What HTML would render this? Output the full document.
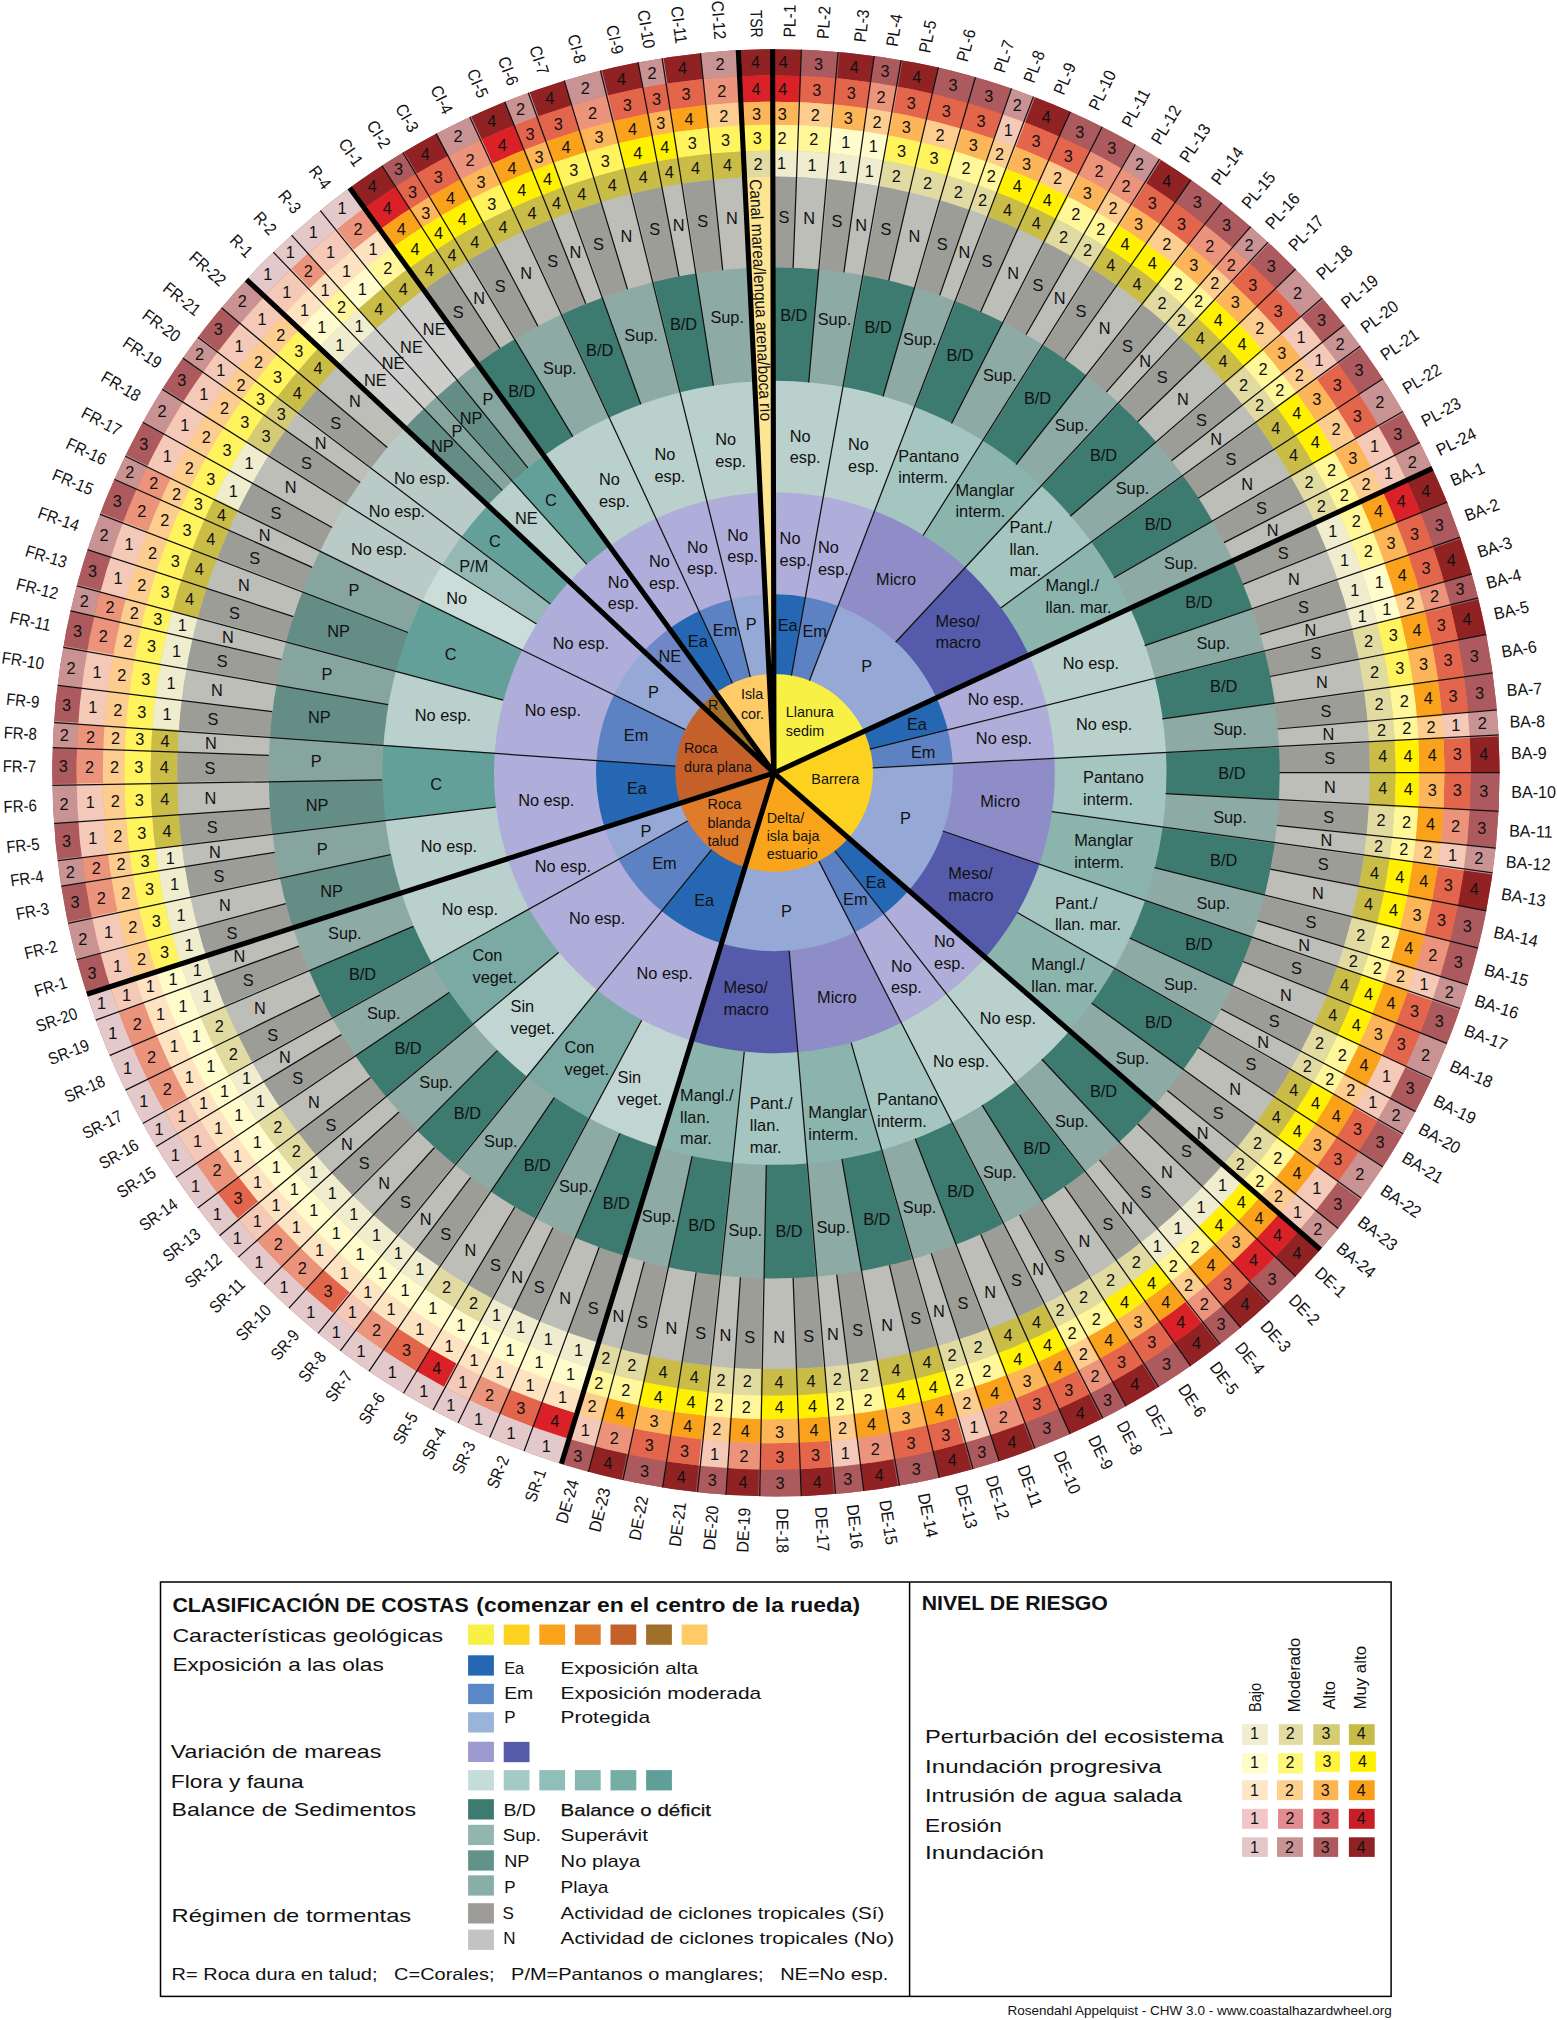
<!DOCTYPE html>
<html><head><meta charset="utf-8"><title>Coastal Hazard Wheel</title>
<style>html,body{margin:0;padding:0;background:#fff}svg{display:block}text{font-family:"Liberation Sans",sans-serif}</style>
</head><body>
<svg width="1557" height="2020" viewBox="0 0 1557 2020">
<rect width="1557" height="2020" fill="#fff"/>
<defs><clipPath id="ch5"><circle cx="775.9" cy="772.8" r="723.65"/></clipPath><clipPath id="ch4"><circle cx="773.6" cy="772.5" r="697.1"/></clipPath><clipPath id="ch3"><circle cx="773.7" cy="772.5" r="670.75"/></clipPath><clipPath id="ch2"><circle cx="771.9" cy="772" r="647.2"/></clipPath><clipPath id="ch1"><circle cx="773.1" cy="773" r="622.4"/></clipPath><clipPath id="csto"><circle cx="773.5" cy="772.8" r="596.2"/></clipPath><clipPath id="csed"><circle cx="774.2" cy="772.9" r="505.5"/></clipPath><clipPath id="cflo"><circle cx="774.5" cy="772.8" r="392.0"/></clipPath><clipPath id="ctid"><circle cx="774.4" cy="772.8" r="280.4"/></clipPath><clipPath id="cwave"><circle cx="774.5" cy="772.8" r="178.5"/></clipPath><clipPath id="cgeo"><circle cx="774.2" cy="772.8" r="98.85"/></clipPath></defs>
<g clip-path="url(#ch5)">
<circle cx="774" cy="773" r="729.6" fill="#AC5A5D"/>
<path d="M774 773L772.6 43.4A729.6 729.6 0 0 1 803.2 43.9ZM774 773L838.6 46.2A729.6 729.6 0 0 1 876.4 50.6ZM774 773L902.2 54.7A729.6 729.6 0 0 1 941.1 62.7ZM774 773L1035.4 91.8A729.6 729.6 0 0 1 1073.8 107.8ZM774 773L1162.1 155.1A729.6 729.6 0 0 1 1194.9 177ZM774 773L1436.2 466.6A729.6 729.6 0 0 1 1451.5 502ZM774 773L1464.1 535.9A729.6 729.6 0 0 1 1476 574.2ZM774 773L1482.1 597A729.6 729.6 0 0 1 1490.5 635.2ZM774 773L1502.6 734.7A729.6 729.6 0 0 1 1503.6 774ZM774 773L1496.7 873.4A729.6 729.6 0 0 1 1490 913.2ZM774 773L1323.9 1252.6A729.6 729.6 0 0 1 1298 1280.8ZM774 773L1272.6 1305.8A729.6 729.6 0 0 1 1242.6 1332.3ZM774 773L1223.1 1348.1A729.6 729.6 0 0 1 1192.2 1370.9ZM774 773L1161.3 1391.4A729.6 729.6 0 0 1 1127.3 1411.4ZM774 773L1105.3 1423.1A729.6 729.6 0 0 1 1070.9 1439.5ZM774 773L1036.9 1453.6A729.6 729.6 0 0 1 999.5 1466.9ZM774 773L974.6 1474.5A729.6 729.6 0 0 1 939.1 1483.7ZM774 773L900.5 1491.6A729.6 729.6 0 0 1 863 1497.2ZM774 773L836.1 1500A729.6 729.6 0 0 1 800 1502.2ZM774 773L759.6 1502.5A729.6 729.6 0 0 1 724 1500.9ZM774 773L696.7 1498.5A729.6 729.6 0 0 1 660 1493.7ZM774 773L621.5 1486.5A729.6 729.6 0 0 1 585.3 1477.8ZM774 773L345.6 182.3A729.6 729.6 0 0 1 379.6 159.1ZM774 773L399.5 146.8A729.6 729.6 0 0 1 434.5 127.2ZM774 773L467 111.1A729.6 729.6 0 0 1 503.7 95.2ZM774 773L526.1 86.7A729.6 729.6 0 0 1 564 74.2ZM774 773L599 64.7A729.6 729.6 0 0 1 638.4 56.1ZM774 773L661.1 52.1A729.6 729.6 0 0 1 701.4 47ZM774 773L738 44.2A729.6 729.6 0 0 1 774.1 43.4Z" fill="#902224"/>
<path d="M774 773L801.6 43.9A729.6 729.6 0 0 1 840.1 46.4ZM774 773L874.9 50.4A729.6 729.6 0 0 1 903.7 55ZM774 773L939.6 62.4A729.6 729.6 0 0 1 978.4 72.6ZM774 773L977 72.1A729.6 729.6 0 0 1 1014.7 84.2ZM774 773L1072.4 107.2A729.6 729.6 0 0 1 1105.8 123.2ZM774 773L1104.5 122.5A729.6 729.6 0 0 1 1139 141.2ZM774 773L1193.7 176.1A729.6 729.6 0 0 1 1225.7 200ZM774 773L1224.5 199A729.6 729.6 0 0 1 1254.8 224.2ZM774 773L1271.1 238.8A729.6 729.6 0 0 1 1299.8 267.2ZM774 773L1325.4 295.2A729.6 729.6 0 0 1 1348.7 323.5ZM774 773L1363.8 343.5A729.6 729.6 0 0 1 1387.3 377.7ZM774 773L1406.6 409.4A729.6 729.6 0 0 1 1424.2 441.9ZM774 773L1450.9 500.6A729.6 729.6 0 0 1 1464.6 537.4ZM774 773L1475.6 572.7A729.6 729.6 0 0 1 1482.5 598.5ZM774 773L1490.2 633.7A729.6 729.6 0 0 1 1496.9 673.8ZM774 773L1496.7 672.3A729.6 729.6 0 0 1 1501 711.1ZM774 773L1503.6 772.5A729.6 729.6 0 0 1 1502.6 813ZM774 773L1502.6 811.4A729.6 729.6 0 0 1 1499.6 850.2ZM774 773L1490.3 911.7A729.6 729.6 0 0 1 1481.7 950.5ZM774 773L1482.1 949A729.6 729.6 0 0 1 1471.4 987.5ZM774 773L1464.1 1009.9A729.6 729.6 0 0 1 1450.4 1046.6ZM774 773L1435.8 1080.2A729.6 729.6 0 0 1 1418.5 1115ZM774 773L1406.9 1136.1A729.6 729.6 0 0 1 1385.8 1170.6ZM774 773L1365 1200.9A729.6 729.6 0 0 1 1340.8 1232.5ZM774 773L1299 1279.7A729.6 729.6 0 0 1 1271.4 1306.8ZM774 773L1243.8 1331.3A729.6 729.6 0 0 1 1221.9 1349ZM774 773L1193.4 1370A729.6 729.6 0 0 1 1160 1392.2ZM774 773L1128.6 1410.7A729.6 729.6 0 0 1 1103.9 1423.8ZM774 773L1072.3 1438.9A729.6 729.6 0 0 1 1035.5 1454.2ZM774 773L1000.9 1466.5A729.6 729.6 0 0 1 973.2 1474.9ZM774 773L940.6 1483.4A729.6 729.6 0 0 1 898.9 1491.9ZM774 773L864.6 1497A729.6 729.6 0 0 1 834.5 1500.1ZM774 773L801.5 1502.1A729.6 729.6 0 0 1 758.1 1502.5ZM774 773L725.5 1501A729.6 729.6 0 0 1 695.2 1498.4ZM774 773L661.5 1493.9A729.6 729.6 0 0 1 620.1 1486.2ZM774 773L586.8 1478.2A729.6 729.6 0 0 1 557.9 1469.9ZM774 773L79.4 996.5A729.6 729.6 0 0 1 68.8 960.1ZM774 773L60.4 925.1A729.6 729.6 0 0 1 53.1 885.9ZM774 773L49.8 861.8A729.6 729.6 0 0 1 46 822.5ZM774 773L44.5 785.6A729.6 729.6 0 0 1 44.8 746ZM774 773L46.1 721.8A729.6 729.6 0 0 1 49.9 682.9ZM774 773L55.5 645.9A729.6 729.6 0 0 1 63.3 607.6ZM774 773L69.3 583.7A729.6 729.6 0 0 1 80.6 545.8ZM774 773L92.8 511.5A729.6 729.6 0 0 1 108.1 474.8ZM774 773L118.4 452.8A729.6 729.6 0 0 1 136.9 417.3ZM774 773L155.9 385.3A729.6 729.6 0 0 1 177.6 352.6ZM774 773L192 332.9A729.6 729.6 0 0 1 216.9 301.8ZM774 773L378.3 160A729.6 729.6 0 0 1 400.8 146Z" fill="#AC5A5D"/>
<path d="M774 773L1013.2 83.7A729.6 729.6 0 0 1 1036.8 92.3ZM774 773L1137.7 140.5A729.6 729.6 0 0 1 1163.4 155.9ZM774 773L1253.7 223.2A729.6 729.6 0 0 1 1272.2 239.9ZM774 773L1298.8 266.1A729.6 729.6 0 0 1 1326.4 296.3ZM774 773L1347.8 322.3A729.6 729.6 0 0 1 1364.7 344.7ZM774 773L1386.5 376.5A729.6 729.6 0 0 1 1407.4 410.7ZM774 773L1423.5 440.5A729.6 729.6 0 0 1 1436.8 468ZM774 773L1500.9 709.5A729.6 729.6 0 0 1 1502.7 736.2ZM774 773L1499.7 848.6A729.6 729.6 0 0 1 1496.5 874.9ZM774 773L1471.8 986.1A729.6 729.6 0 0 1 1463.6 1011.4ZM774 773L1451 1045.2A729.6 729.6 0 0 1 1435.2 1081.6ZM774 773L1419.3 1113.6A729.6 729.6 0 0 1 1406.1 1137.4ZM774 773L1386.6 1169.3A729.6 729.6 0 0 1 1364.1 1202.2ZM774 773L1341.8 1231.3A729.6 729.6 0 0 1 1322.9 1253.7ZM774 773L69.1 961.6A729.6 729.6 0 0 1 60.1 923.6ZM774 773L53.4 887.4A729.6 729.6 0 0 1 49.6 860.3ZM774 773L46.1 824A729.6 729.6 0 0 1 44.4 784.1ZM774 773L44.8 747.5A729.6 729.6 0 0 1 46.3 720.3ZM774 773L49.7 684.5A729.6 729.6 0 0 1 55.8 644.4ZM774 773L63 609.1A729.6 729.6 0 0 1 69.7 582.2ZM774 773L80.1 547.3A729.6 729.6 0 0 1 93.4 510.1ZM774 773L107.4 476.2A729.6 729.6 0 0 1 119 451.4ZM774 773L136.2 418.6A729.6 729.6 0 0 1 156.7 384ZM774 773L176.7 353.9A729.6 729.6 0 0 1 193 331.7ZM774 773L215.9 303A729.6 729.6 0 0 1 242.2 273.4ZM774 773L433.1 127.9A729.6 729.6 0 0 1 468.4 110.4ZM774 773L502.3 95.8A729.6 729.6 0 0 1 527.6 86.2ZM774 773L562.5 74.7A729.6 729.6 0 0 1 600.4 64.3ZM774 773L636.9 56.3A729.6 729.6 0 0 1 662.6 51.9ZM774 773L699.9 47.1A729.6 729.6 0 0 1 739.5 44.2Z" fill="#C99293"/>
<path d="M774 773L559.3 1470.4A729.6 729.6 0 0 1 520.3 1457.1ZM774 773L521.7 1457.6A729.6 729.6 0 0 1 485.6 1443.2ZM774 773L487 1443.8A729.6 729.6 0 0 1 453.7 1428.6ZM774 773L455.1 1429.3A729.6 729.6 0 0 1 428.4 1415.6ZM774 773L429.8 1416.3A729.6 729.6 0 0 1 398.5 1398.6ZM774 773L399.8 1399.4A729.6 729.6 0 0 1 363.8 1376.4ZM774 773L365 1377.3A729.6 729.6 0 0 1 334.8 1355.6ZM774 773L336 1356.6A729.6 729.6 0 0 1 312.3 1338ZM774 773L313.5 1339A729.6 729.6 0 0 1 282.8 1312.6ZM774 773L284 1313.6A729.6 729.6 0 0 1 257.7 1288.6ZM774 773L258.8 1289.7A729.6 729.6 0 0 1 231.7 1261.1ZM774 773L232.7 1262.3A729.6 729.6 0 0 1 212.8 1239.3ZM774 773L213.7 1240.4A729.6 729.6 0 0 1 190.7 1211.4ZM774 773L191.7 1212.6A729.6 729.6 0 0 1 168.7 1180.4ZM774 773L169.5 1181.6A729.6 729.6 0 0 1 148.8 1149.2ZM774 773L149.6 1150.5A729.6 729.6 0 0 1 135.3 1125.8ZM774 773L136.1 1127.2A729.6 729.6 0 0 1 117.9 1092.2ZM774 773L118.5 1093.5A729.6 729.6 0 0 1 102 1057.2ZM774 773L102.6 1058.6A729.6 729.6 0 0 1 87.9 1021.4ZM774 773L88.4 1022.8A729.6 729.6 0 0 1 79 995.1ZM774 773L241.2 274.5A729.6 729.6 0 0 1 269.4 245.9ZM774 773L268.3 247A729.6 729.6 0 0 1 287.9 228.8ZM774 773L286.8 229.8A729.6 729.6 0 0 1 317.1 204.1ZM774 773L315.9 205.1A729.6 729.6 0 0 1 346.9 181.4Z" fill="#E3C9CA"/>
</g>
<g clip-path="url(#ch4)">
<circle cx="774" cy="773" r="703.1" fill="#E3654C"/>
<path d="M774 773L772.7 69.9A703.1 703.1 0 0 1 802.1 70.5ZM774 773L1412.1 477.7A703.1 703.1 0 0 1 1426.8 511.9ZM774 773L1303.9 1235.1A703.1 703.1 0 0 1 1278.9 1262.3ZM774 773L1279.9 1261.2A703.1 703.1 0 0 1 1253.3 1287.4ZM774 773L1206.8 1327.1A703.1 703.1 0 0 1 1177 1349.2ZM774 773L567.1 1445A703.1 703.1 0 0 1 529.5 1432.2ZM774 773L442.3 1392.9A703.1 703.1 0 0 1 412.2 1375.9ZM774 773L361.2 203.8A703.1 703.1 0 0 1 394 181.5ZM774 773L478.2 135.2A703.1 703.1 0 0 1 513.6 119.9ZM774 773L739.3 70.8A703.1 703.1 0 0 1 774.1 69.9Z" fill="#DA2128"/>
<path d="M774 773L800.6 70.4A703.1 703.1 0 0 1 837.7 72.8ZM774 773L836.3 72.7A703.1 703.1 0 0 1 872.7 76.9ZM774 773L897.5 80.8A703.1 703.1 0 0 1 935 88.6ZM774 773L933.6 88.3A703.1 703.1 0 0 1 971 98.1ZM774 773L969.6 97.6A703.1 703.1 0 0 1 1005.9 109.3ZM774 773L1025.9 116.6A703.1 703.1 0 0 1 1062.9 132ZM774 773L1061.5 131.4A703.1 703.1 0 0 1 1093.7 146.8ZM774 773L1147.9 177.6A703.1 703.1 0 0 1 1179.6 198.7ZM774 773L1178.4 197.8A703.1 703.1 0 0 1 1209.3 220.8ZM774 773L1253 258.3A703.1 703.1 0 0 1 1280.7 285.6ZM774 773L1279.7 284.5A703.1 703.1 0 0 1 1306.3 313.7ZM774 773L1342.4 359.1A703.1 703.1 0 0 1 1365 392.1ZM774 773L1364.2 390.9A703.1 703.1 0 0 1 1384.3 423.9ZM774 773L1426.3 510.5A703.1 703.1 0 0 1 1439.4 546ZM774 773L1439 544.6A703.1 703.1 0 0 1 1450.5 581.4ZM774 773L1456.3 603.4A703.1 703.1 0 0 1 1464.4 640.2ZM774 773L1464.2 638.7A703.1 703.1 0 0 1 1470.6 677.5ZM774 773L1470.4 676A703.1 703.1 0 0 1 1474.6 713.3ZM774 773L1476.1 736.1A703.1 703.1 0 0 1 1477.1 774ZM774 773L1477.1 772.5A703.1 703.1 0 0 1 1476 811.5ZM774 773L1470.4 869.8A703.1 703.1 0 0 1 1464 908.1ZM774 773L1464.3 906.7A703.1 703.1 0 0 1 1456 944ZM774 773L1439 1001.3A703.1 703.1 0 0 1 1425.8 1036.6ZM774 773L1426.4 1035.2A703.1 703.1 0 0 1 1411.1 1070.4ZM774 773L1383.9 1122.8A703.1 703.1 0 0 1 1363.5 1156.1ZM774 773L1364.3 1154.9A703.1 703.1 0 0 1 1342.6 1186.6ZM774 773L1254.4 1286.4A703.1 703.1 0 0 1 1225.6 1311.9ZM774 773L1178.2 1348.3A703.1 703.1 0 0 1 1146 1369.7ZM774 773L1147.2 1368.9A703.1 703.1 0 0 1 1114.4 1388.2ZM774 773L1093.2 1399.5A703.1 703.1 0 0 1 1060.1 1415.3ZM774 773L1061.4 1414.7A703.1 703.1 0 0 1 1026 1429.4ZM774 773L967.3 1449A703.1 703.1 0 0 1 933.1 1457.9ZM774 773L934.6 1457.5A703.1 703.1 0 0 1 894.4 1465.7ZM774 773L833.8 1473.6A703.1 703.1 0 0 1 799 1475.7ZM774 773L800.5 1475.6A703.1 703.1 0 0 1 758.7 1475.9ZM774 773L699.5 1472.1A703.1 703.1 0 0 1 664.1 1467.5ZM774 773L665.6 1467.7A703.1 703.1 0 0 1 625.7 1460.3ZM774 773L530.9 1432.7A703.1 703.1 0 0 1 496.1 1418.9ZM774 773L413.5 1376.6A703.1 703.1 0 0 1 378.7 1354.5ZM774 773L330.3 1318.4A703.1 703.1 0 0 1 300.7 1293ZM774 773L234.1 1223.4A703.1 703.1 0 0 1 212 1195.4ZM774 773L392.7 182.3A703.1 703.1 0 0 1 414.4 168.8ZM774 773L413.1 169.6A703.1 703.1 0 0 1 446.8 150.7ZM774 773L512.2 120.5A703.1 703.1 0 0 1 536.5 111.2ZM774 773L535.1 111.7A703.1 703.1 0 0 1 571.6 99.7ZM774 773L605.3 90.4A703.1 703.1 0 0 1 643.3 82.1ZM774 773L641.9 82.4A703.1 703.1 0 0 1 666.7 78.1ZM774 773L665.2 78.4A703.1 703.1 0 0 1 704 73.4Z" fill="#E3654C"/>
<path d="M774 773L871.2 76.7A703.1 703.1 0 0 1 899 81.1ZM774 773L1092.4 146.1A703.1 703.1 0 0 1 1125.8 164.2ZM774 773L1124.5 163.5A703.1 703.1 0 0 1 1149.2 178.4ZM774 773L1208.1 219.9A703.1 703.1 0 0 1 1237.3 244.1ZM774 773L1236.2 243.2A703.1 703.1 0 0 1 1254.1 259.3ZM774 773L1450.1 580A703.1 703.1 0 0 1 1456.7 604.8ZM774 773L1476.1 810A703.1 703.1 0 0 1 1473.2 847.3ZM774 773L1456.3 942.6A703.1 703.1 0 0 1 1446 979.7ZM774 773L1226.7 1311A703.1 703.1 0 0 1 1205.6 1328ZM774 773L1115.7 1387.5A703.1 703.1 0 0 1 1091.9 1400.1ZM774 773L1027.3 1428.9A703.1 703.1 0 0 1 991.3 1441.7ZM774 773L895.9 1465.5A703.1 703.1 0 0 1 859.8 1470.8ZM774 773L760.1 1476A703.1 703.1 0 0 1 725.8 1474.4ZM774 773L627.1 1460.6A703.1 703.1 0 0 1 592.1 1452.2ZM774 773L497.5 1419.4A703.1 703.1 0 0 1 465.3 1404.7ZM774 773L379.9 1355.3A703.1 703.1 0 0 1 350.8 1334.4ZM774 773L301.8 1293.9A703.1 703.1 0 0 1 276.5 1269.8ZM774 773L277.5 1270.9A703.1 703.1 0 0 1 251.4 1243.4ZM774 773L212.8 1196.6A703.1 703.1 0 0 1 190.7 1165.6ZM774 773L159.3 1114.3A703.1 703.1 0 0 1 141.7 1080.6ZM774 773L142.4 1081.9A703.1 703.1 0 0 1 126.4 1046.8ZM774 773L127 1048.2A703.1 703.1 0 0 1 112.9 1012.3ZM774 773L86.3 919.5A703.1 703.1 0 0 1 79.4 881.8ZM774 773L79.6 883.2A703.1 703.1 0 0 1 75.9 857.1ZM774 773L71 785.1A703.1 703.1 0 0 1 71.4 747ZM774 773L71.3 748.5A703.1 703.1 0 0 1 72.7 722.2ZM774 773L81.6 650.5A703.1 703.1 0 0 1 89.2 613.6ZM774 773L88.9 615.1A703.1 703.1 0 0 1 95.4 589.1ZM774 773L117.6 521A703.1 703.1 0 0 1 132.3 485.7ZM774 773L131.7 487A703.1 703.1 0 0 1 142.9 463.1ZM774 773L286.7 266.1A703.1 703.1 0 0 1 305.6 248.6ZM774 773L332.6 225.7A703.1 703.1 0 0 1 362.4 203ZM774 773L445.5 151.3A703.1 703.1 0 0 1 479.5 134.5ZM774 773L570.2 100.1A703.1 703.1 0 0 1 606.8 90.1ZM774 773L702.6 73.5A703.1 703.1 0 0 1 740.8 70.7Z" fill="#EC947B"/>
<path d="M774 773L1004.5 108.8A703.1 703.1 0 0 1 1027.2 117.1ZM774 773L1305.4 312.6A703.1 703.1 0 0 1 1327.8 339.8ZM774 773L1326.9 338.7A703.1 703.1 0 0 1 1343.3 360.3ZM774 773L1383.6 422.6A703.1 703.1 0 0 1 1400.5 453.9ZM774 773L1399.9 452.6A703.1 703.1 0 0 1 1412.7 479.1ZM774 773L1474.4 711.8A703.1 703.1 0 0 1 1476.2 737.6ZM774 773L1473.3 845.9A703.1 703.1 0 0 1 1470.2 871.2ZM774 773L1446.4 978.3A703.1 703.1 0 0 1 1438.5 1002.7ZM774 773L1411.7 1069A703.1 703.1 0 0 1 1395.1 1102.5ZM774 773L1395.8 1101.2A703.1 703.1 0 0 1 1383.1 1124.1ZM774 773L1343.5 1185.4A703.1 703.1 0 0 1 1320.2 1215.8ZM774 773L1321.1 1214.6A703.1 703.1 0 0 1 1302.9 1236.2ZM774 773L992.7 1441.2A703.1 703.1 0 0 1 965.9 1449.4ZM774 773L861.3 1470.7A703.1 703.1 0 0 1 832.3 1473.7ZM774 773L727.3 1474.5A703.1 703.1 0 0 1 698.1 1472ZM774 773L593.6 1452.6A703.1 703.1 0 0 1 565.7 1444.5ZM774 773L466.7 1405.4A703.1 703.1 0 0 1 441 1392.2ZM774 773L351.9 1335.3A703.1 703.1 0 0 1 329.1 1317.5ZM774 773L252.4 1244.5A703.1 703.1 0 0 1 233.2 1222.3ZM774 773L191.5 1166.8A703.1 703.1 0 0 1 171.6 1135.5ZM774 773L172.3 1136.8A703.1 703.1 0 0 1 158.6 1113ZM774 773L113.4 1013.7A703.1 703.1 0 0 1 104.3 987ZM774 773L104.7 988.4A703.1 703.1 0 0 1 94.4 953.3ZM774 773L94.8 954.7A703.1 703.1 0 0 1 86 918.1ZM774 773L76.1 858.6A703.1 703.1 0 0 1 72.5 820.7ZM774 773L72.6 822.2A703.1 703.1 0 0 1 71 783.7ZM774 773L72.6 723.7A703.1 703.1 0 0 1 76.3 686.2ZM774 773L76.1 687.7A703.1 703.1 0 0 1 81.9 649.1ZM774 773L95 590.6A703.1 703.1 0 0 1 105.8 554.1ZM774 773L105.4 555.5A703.1 703.1 0 0 1 118.1 519.7ZM774 773L142.2 464.5A703.1 703.1 0 0 1 160.1 430.2ZM774 773L159.4 431.5A703.1 703.1 0 0 1 179.2 398.1ZM774 773L178.4 399.4A703.1 703.1 0 0 1 199.3 367.9ZM774 773L198.5 369.1A703.1 703.1 0 0 1 214.1 347.7ZM774 773L213.2 348.9A703.1 703.1 0 0 1 237.1 319ZM774 773L236.2 320.1A703.1 703.1 0 0 1 261.5 291.6ZM774 773L260.5 292.7A703.1 703.1 0 0 1 287.8 265.1ZM774 773L304.5 249.6A703.1 703.1 0 0 1 333.7 224.8Z" fill="#F5C9B8"/>
</g>
<g clip-path="url(#ch3)">
<circle cx="774" cy="773" r="676.8" fill="#FCB558"/>
<path d="M774 773L772.7 96.3A676.8 676.8 0 0 1 801 96.8ZM774 773L833.9 98.9A676.8 676.8 0 0 1 869 103ZM774 773L892.9 106.8A676.8 676.8 0 0 1 929 114.2ZM774 773L962.2 123A676.8 676.8 0 0 1 997.2 134.1ZM774 773L1016.4 141.2A676.8 676.8 0 0 1 1052.1 156ZM774 773L1080.5 169.6A676.8 676.8 0 0 1 1112.6 187ZM774 773L1133.9 199.9A676.8 676.8 0 0 1 1164.4 220.2ZM774 773L1191.9 240.7A676.8 676.8 0 0 1 1219.9 264ZM774 773L1235 277.6A676.8 676.8 0 0 1 1261.7 303.8ZM774 773L1285.4 329.8A676.8 676.8 0 0 1 1307.1 356.1ZM774 773L1321.1 374.6A676.8 676.8 0 0 1 1342.9 406.4ZM774 773L1360.7 435.8A676.8 676.8 0 0 1 1377 465.9ZM774 773L1401.8 520.4A676.8 676.8 0 0 1 1414.5 554.5ZM774 773L1438.3 643.8A676.8 676.8 0 0 1 1444.5 681ZM774 773L1450.7 772.5A676.8 676.8 0 0 1 1449.7 810.1ZM774 773L1438.4 901.7A676.8 676.8 0 0 1 1430.4 937.6ZM774 773L1401.9 1025.4A676.8 676.8 0 0 1 1387.2 1059.2ZM774 773L1342.2 1140.6A676.8 676.8 0 0 1 1321.3 1171.1ZM774 773L1261 1242.9A676.8 676.8 0 0 1 1235.4 1268.1ZM774 773L1163 1326.8A676.8 676.8 0 0 1 1132 1347.3ZM774 773L1050.7 1390.6A676.8 676.8 0 0 1 1016.5 1404.8ZM774 773L928.5 1431.9A676.8 676.8 0 0 1 889.9 1439.8ZM774 773L799.5 1449.3A676.8 676.8 0 0 1 759.2 1449.6ZM774 773L669.6 1441.7A676.8 676.8 0 0 1 631.2 1434.5ZM774 773L407 204.4A676.8 676.8 0 0 1 427.9 191.5ZM774 773L457.9 174.6A676.8 676.8 0 0 1 490.6 158.5ZM774 773L522 144.9A676.8 676.8 0 0 1 545.4 136ZM774 773L577.8 125.3A676.8 676.8 0 0 1 613 115.7ZM774 773L646.8 108.3A676.8 676.8 0 0 1 670.7 104.2ZM774 773L740.6 97.1A676.8 676.8 0 0 1 774.1 96.3Z" fill="#FCB558"/>
<path d="M774 773L799.6 96.7A676.8 676.8 0 0 1 835.3 99ZM774 773L867.6 102.8A676.8 676.8 0 0 1 894.3 107ZM774 773L927.6 113.9A676.8 676.8 0 0 1 963.6 123.4ZM774 773L995.9 133.7A676.8 676.8 0 0 1 1017.7 141.7ZM774 773L1050.8 155.4A676.8 676.8 0 0 1 1081.8 170.3ZM774 773L1111.4 186.3A676.8 676.8 0 0 1 1135.1 200.7ZM774 773L1163.2 219.4A676.8 676.8 0 0 1 1193 241.5ZM774 773L1218.9 263A676.8 676.8 0 0 1 1236.1 278.5ZM774 773L1260.7 302.8A676.8 676.8 0 0 1 1286.4 330.9ZM774 773L1306.2 355A676.8 676.8 0 0 1 1321.9 375.8ZM774 773L1342.1 405.2A676.8 676.8 0 0 1 1361.4 437ZM774 773L1376.4 464.6A676.8 676.8 0 0 1 1388.8 490.1ZM774 773L1424.8 587.3A676.8 676.8 0 0 1 1431.1 611.1ZM774 773L1448.2 714.1A676.8 676.8 0 0 1 1449.9 738.9ZM774 773L1447.1 843.2A676.8 676.8 0 0 1 1444.1 867.5ZM774 773L1421.2 970.6A676.8 676.8 0 0 1 1413.6 994.1ZM774 773L1372.5 1088.9A676.8 676.8 0 0 1 1360.3 1111ZM774 773L1300.6 1198.1A676.8 676.8 0 0 1 1283.1 1218.9ZM774 773L1209.7 1290.8A676.8 676.8 0 0 1 1189.4 1307.2ZM774 773L1102.9 1364.4A676.8 676.8 0 0 1 1080 1376.6ZM774 773L984.5 1416.2A676.8 676.8 0 0 1 958.7 1424.1ZM774 773L858 1444.5A676.8 676.8 0 0 1 830.2 1447.4ZM774 773L729 1448.3A676.8 676.8 0 0 1 700.9 1445.8ZM774 773L600.3 1427.1A676.8 676.8 0 0 1 573.5 1419.4ZM774 773L129.8 980.3A676.8 676.8 0 0 1 119.9 946.6ZM774 773L120.2 947.9A676.8 676.8 0 0 1 111.8 912.7ZM774 773L112.1 914.1A676.8 676.8 0 0 1 105.4 877.7ZM774 773L105.6 879.1A676.8 676.8 0 0 1 102.1 854ZM774 773L102.3 855.4A676.8 676.8 0 0 1 98.8 818.9ZM774 773L98.9 820.3A676.8 676.8 0 0 1 97.3 783.3ZM774 773L97.4 784.7A676.8 676.8 0 0 1 97.7 748ZM774 773L97.7 749.4A676.8 676.8 0 0 1 99 724.1ZM774 773L98.9 725.6A676.8 676.8 0 0 1 102.4 689.5ZM774 773L102.3 690.9A676.8 676.8 0 0 1 107.8 653.7ZM774 773L107.6 655.1A676.8 676.8 0 0 1 114.9 619.6ZM774 773L114.5 621A676.8 676.8 0 0 1 120.8 596ZM774 773L120.4 597.4A676.8 676.8 0 0 1 130.9 562.3ZM774 773L130.4 563.6A676.8 676.8 0 0 1 142.7 529.2ZM774 773L142.2 530.5A676.8 676.8 0 0 1 156.3 496.4ZM774 773L155.8 497.7A676.8 676.8 0 0 1 166.5 474.7ZM774 773L165.9 476A676.8 676.8 0 0 1 183.1 443ZM774 773L182.4 444.3A676.8 676.8 0 0 1 201.5 412.2ZM774 773L200.7 413.4A676.8 676.8 0 0 1 220.9 383.1ZM774 773L220 384.3A676.8 676.8 0 0 1 235.1 363.6ZM774 773L234.2 364.8A676.8 676.8 0 0 1 257.3 336ZM774 773L256.3 337.1A676.8 676.8 0 0 1 280.8 309.6ZM774 773L705.3 99.8A676.8 676.8 0 0 1 742 97Z" fill="#FDCD8F"/>
<path d="M774 773L1388.2 488.8A676.8 676.8 0 0 1 1402.4 521.7ZM774 773L1414 553.1A676.8 676.8 0 0 1 1425.1 588.6ZM774 773L1430.8 609.7A676.8 676.8 0 0 1 1438.6 645.1ZM774 773L1444.3 679.6A676.8 676.8 0 0 1 1448.3 715.5ZM774 773L1449.8 737.5A676.8 676.8 0 0 1 1450.7 773.9ZM774 773L1449.8 808.7A676.8 676.8 0 0 1 1447 844.6ZM774 773L1444.3 866.1A676.8 676.8 0 0 1 1438.1 903.1ZM774 773L1430.8 936.3A676.8 676.8 0 0 1 1420.8 972ZM774 773L1414.1 992.8A676.8 676.8 0 0 1 1401.4 1026.7ZM774 773L1387.8 1057.9A676.8 676.8 0 0 1 1371.8 1090.2ZM774 773L1361 1109.7A676.8 676.8 0 0 1 1341.4 1141.8ZM774 773L1322.1 1169.9A676.8 676.8 0 0 1 1299.7 1199.2ZM774 773L1284.1 1217.8A676.8 676.8 0 0 1 1260 1244ZM774 773L1236.4 1267.1A676.8 676.8 0 0 1 1208.6 1291.7ZM774 773L1190.6 1306.4A676.8 676.8 0 0 1 1161.9 1327.6ZM774 773L1133.2 1346.5A676.8 676.8 0 0 1 1101.7 1365.1ZM774 773L1081.2 1376A676.8 676.8 0 0 1 1049.4 1391.2ZM774 773L1017.8 1404.3A676.8 676.8 0 0 1 983.1 1416.6ZM774 773L960.1 1423.7A676.8 676.8 0 0 1 927.2 1432.2ZM774 773L891.3 1439.5A676.8 676.8 0 0 1 856.6 1444.7ZM774 773L831.6 1447.3A676.8 676.8 0 0 1 798.1 1449.3ZM774 773L760.7 1449.6A676.8 676.8 0 0 1 727.6 1448.2ZM774 773L702.3 1445.9A676.8 676.8 0 0 1 668.2 1441.4ZM774 773L632.6 1434.8A676.8 676.8 0 0 1 599 1426.7ZM774 773L376.7 225.2A676.8 676.8 0 0 1 408.2 203.6ZM774 773L426.7 192.2A676.8 676.8 0 0 1 459.1 174ZM774 773L489.3 159.1A676.8 676.8 0 0 1 523.3 144.4ZM774 773L544.1 136.5A676.8 676.8 0 0 1 579.2 124.9ZM774 773L611.7 116A676.8 676.8 0 0 1 648.2 108ZM774 773L669.3 104.4A676.8 676.8 0 0 1 706.7 99.6Z" fill="#FAA21B"/>
<path d="M774 773L574.9 1419.8A676.8 676.8 0 0 1 538.7 1407.5ZM774 773L540 1408A676.8 676.8 0 0 1 506.5 1394.7ZM774 773L507.8 1395.2A676.8 676.8 0 0 1 476.9 1381.1ZM774 773L478.2 1381.7A676.8 676.8 0 0 1 453.5 1369ZM774 773L454.7 1369.7A676.8 676.8 0 0 1 425.8 1353.3ZM774 773L427 1354A676.8 676.8 0 0 1 393.5 1332.7ZM774 773L394.7 1333.5A676.8 676.8 0 0 1 366.6 1313.4ZM774 773L367.8 1314.3A676.8 676.8 0 0 1 345.8 1297.1ZM774 773L346.9 1298A676.8 676.8 0 0 1 318.5 1273.5ZM774 773L319.5 1274.4A676.8 676.8 0 0 1 295.1 1251.2ZM774 773L296.1 1252.2A676.8 676.8 0 0 1 271 1225.7ZM774 773L271.9 1226.8A676.8 676.8 0 0 1 253.5 1205.5ZM774 773L254.4 1206.6A676.8 676.8 0 0 1 233 1179.6ZM774 773L233.9 1180.7A676.8 676.8 0 0 1 212.6 1150.8ZM774 773L213.3 1152A676.8 676.8 0 0 1 194.2 1122ZM774 773L194.9 1123.2A676.8 676.8 0 0 1 181.6 1100.3ZM774 773L182.3 1101.5A676.8 676.8 0 0 1 165.4 1069ZM774 773L166.1 1070.3A676.8 676.8 0 0 1 150.7 1036.6ZM774 773L151.2 1037.9A676.8 676.8 0 0 1 137.7 1003.4ZM774 773L138.1 1004.7A676.8 676.8 0 0 1 129.4 979ZM774 773L279.8 310.7A676.8 676.8 0 0 1 306 284.1ZM774 773L305 285.1A676.8 676.8 0 0 1 323.2 268.3ZM774 773L322.1 269.2A676.8 676.8 0 0 1 350.2 245.4ZM774 773L349.1 246.2A676.8 676.8 0 0 1 377.8 224.3Z" fill="#FEE3C3"/>
</g>
<g clip-path="url(#ch2)">
<circle cx="774" cy="773" r="653.2" fill="#FFF35E"/>
<path d="M774 773L772.7 119.8A653.2 653.2 0 0 1 800.1 120.3ZM774 773L798.7 120.3A653.2 653.2 0 0 1 833.2 122.5ZM774 773L955.7 145.6A653.2 653.2 0 0 1 989.5 156.4ZM774 773L988.2 155.9A653.2 653.2 0 0 1 1009.3 163.6ZM774 773L1069.8 190.6A653.2 653.2 0 0 1 1100.8 207.4ZM774 773L1099.6 206.7A653.2 653.2 0 0 1 1122.6 220.6ZM774 773L1177.3 259.2A653.2 653.2 0 0 1 1204.4 281.7ZM774 773L1203.4 280.8A653.2 653.2 0 0 1 1220 295.7ZM774 773L1267.6 345.2A653.2 653.2 0 0 1 1288.5 370.6ZM774 773L1287.7 369.5A653.2 653.2 0 0 1 1302.9 389.6ZM774 773L1340.3 447.5A653.2 653.2 0 0 1 1356.1 476.6ZM774 773L1355.4 475.3A653.2 653.2 0 0 1 1367.4 499.9ZM774 773L1366.8 498.7A653.2 653.2 0 0 1 1380.5 530.4ZM774 773L1380 529.2A653.2 653.2 0 0 1 1392.2 562.1ZM774 773L1421 682.9A653.2 653.2 0 0 1 1424.8 717.5ZM774 773L1424.7 716.2A653.2 653.2 0 0 1 1426.4 740.1ZM774 773L1426.3 807.4A653.2 653.2 0 0 1 1423.5 842.1ZM774 773L1423.7 840.7A653.2 653.2 0 0 1 1420.8 864.2ZM774 773L1407.9 930.6A653.2 653.2 0 0 1 1398.3 965.1ZM774 773L1398.7 963.8A653.2 653.2 0 0 1 1391.4 986.4ZM774 773L1366.5 1048A653.2 653.2 0 0 1 1351 1079.2ZM774 773L1351.6 1077.9A653.2 653.2 0 0 1 1339.9 1099.2ZM774 773L1303.1 1156.1A653.2 653.2 0 0 1 1281.4 1184.3ZM774 773L1282.3 1183.3A653.2 653.2 0 0 1 1265.4 1203.3ZM774 773L1220.3 1249.9A653.2 653.2 0 0 1 1193.5 1273.7ZM774 773L1194.6 1272.8A653.2 653.2 0 0 1 1175 1288.6ZM774 773L1120.7 1326.6A653.2 653.2 0 0 1 1090.3 1344.5ZM774 773L1091.5 1343.9A653.2 653.2 0 0 1 1069.3 1355.6ZM774 773L1009.4 1382.3A653.2 653.2 0 0 1 975.8 1394.2ZM774 773L977.2 1393.8A653.2 653.2 0 0 1 952.3 1401.4ZM774 773L887.2 1416.3A653.2 653.2 0 0 1 853.7 1421.3ZM774 773L855.1 1421.1A653.2 653.2 0 0 1 828.2 1423.9ZM774 773L761.1 1426.1A653.2 653.2 0 0 1 729.2 1424.7ZM774 773L730.6 1424.8A653.2 653.2 0 0 1 703.5 1422.4ZM774 773L637.5 1411.8A653.2 653.2 0 0 1 605 1404ZM774 773L606.4 1404.3A653.2 653.2 0 0 1 580.5 1396.9ZM774 773L321.3 302.1A653.2 653.2 0 0 1 338.9 285.8ZM774 773L363.9 264.6A653.2 653.2 0 0 1 391.6 243.4Z" fill="#FFF799"/>
<path d="M774 773L831.8 122.4A653.2 653.2 0 0 1 865.7 126.3ZM774 773L864.3 126.1A653.2 653.2 0 0 1 890.1 130.2ZM774 773L1391.8 560.8A653.2 653.2 0 0 1 1402.5 595ZM774 773L1402.1 593.7A653.2 653.2 0 0 1 1408.2 616.7ZM774 773L581.8 1397.3A653.2 653.2 0 0 1 546.8 1385.4ZM774 773L548.1 1385.9A653.2 653.2 0 0 1 515.8 1373ZM774 773L517.1 1373.6A653.2 653.2 0 0 1 487.2 1359.9ZM774 773L488.5 1360.5A653.2 653.2 0 0 1 464.6 1348.3ZM774 773L465.8 1348.9A653.2 653.2 0 0 1 437.9 1333.1ZM774 773L439 1333.8A653.2 653.2 0 0 1 406.8 1313.2ZM774 773L407.9 1314A653.2 653.2 0 0 1 380.8 1294.6ZM774 773L381.9 1295.4A653.2 653.2 0 0 1 360.7 1278.8ZM774 773L361.8 1279.7A653.2 653.2 0 0 1 334.3 1256.1ZM774 773L335.3 1257A653.2 653.2 0 0 1 311.8 1234.6ZM774 773L312.8 1235.5A653.2 653.2 0 0 1 288.5 1210ZM774 773L289.4 1211A653.2 653.2 0 0 1 271.6 1190.4ZM774 773L272.4 1191.5A653.2 653.2 0 0 1 251.9 1165.5ZM774 773L252.7 1166.6A653.2 653.2 0 0 1 232.1 1137.7ZM774 773L232.9 1138.8A653.2 653.2 0 0 1 214.3 1109.8ZM774 773L215 1111A653.2 653.2 0 0 1 202.3 1088.9ZM774 773L202.9 1090.1A653.2 653.2 0 0 1 186.6 1058.7ZM774 773L187.2 1060A653.2 653.2 0 0 1 172.4 1027.4ZM774 773L172.9 1028.6A653.2 653.2 0 0 1 159.8 995.3ZM774 773L160.3 996.6A653.2 653.2 0 0 1 151.8 971.8ZM774 773L297 326.8A653.2 653.2 0 0 1 322.3 301.2ZM774 773L337.9 286.7A653.2 653.2 0 0 1 365 263.7Z" fill="#FFFBCC"/>
<path d="M774 773L888.8 130A653.2 653.2 0 0 1 923.6 137.2ZM774 773L922.3 136.9A653.2 653.2 0 0 1 957 146ZM774 773L1407.9 615.4A653.2 653.2 0 0 1 1415.4 649.6ZM774 773L1415.2 648.3A653.2 653.2 0 0 1 1421.1 684.2ZM774 773L152.2 973.1A653.2 653.2 0 0 1 142.6 940.5ZM774 773L143 941.8A653.2 653.2 0 0 1 134.9 907.8ZM774 773L135.1 909.1A653.2 653.2 0 0 1 128.7 874.1ZM774 773L128.9 875.4A653.2 653.2 0 0 1 125.5 851.1ZM774 773L125.7 852.5A653.2 653.2 0 0 1 122.3 817.3ZM774 773L122.4 818.7A653.2 653.2 0 0 1 120.9 782.9ZM774 773L120.9 784.3A653.2 653.2 0 0 1 121.2 748.8ZM774 773L121.2 750.2A653.2 653.2 0 0 1 122.5 725.8ZM774 773L122.4 727.2A653.2 653.2 0 0 1 125.8 692.4ZM774 773L125.6 693.7A653.2 653.2 0 0 1 131 657.9ZM774 773L130.8 659.2A653.2 653.2 0 0 1 137.8 625ZM774 773L137.5 626.3A653.2 653.2 0 0 1 143.5 602.2ZM774 773L143.2 603.5A653.2 653.2 0 0 1 153.3 569.6ZM774 773L152.8 570.9A653.2 653.2 0 0 1 164.7 537.6ZM774 773L164.2 538.9A653.2 653.2 0 0 1 177.8 506.1ZM774 773L177.3 507.3A653.2 653.2 0 0 1 187.7 485.1ZM774 773L187.1 486.3A653.2 653.2 0 0 1 203.7 454.5ZM774 773L203 455.7A653.2 653.2 0 0 1 221.4 424.7ZM774 773L220.7 425.9A653.2 653.2 0 0 1 240.1 396.7ZM774 773L239.3 397.8A653.2 653.2 0 0 1 253.8 377.9ZM774 773L253 379A653.2 653.2 0 0 1 275.2 351.2ZM774 773L274.4 352.3A653.2 653.2 0 0 1 297.9 325.8ZM774 773L468.9 195.5A653.2 653.2 0 0 1 500.4 179.8ZM774 773L552.1 158.6A653.2 653.2 0 0 1 586 147.4ZM774 773L584.7 147.8A653.2 653.2 0 0 1 618.6 138.5ZM774 773L672.9 127.7A653.2 653.2 0 0 1 709 123ZM774 773L707.6 123.2A653.2 653.2 0 0 1 743.1 120.5ZM774 773L741.7 120.6A653.2 653.2 0 0 1 774.1 119.8Z" fill="#FFF35E"/>
<path d="M774 773L1008 163.1A653.2 653.2 0 0 1 1042.4 177.5ZM774 773L1041.1 176.9A653.2 653.2 0 0 1 1071.1 191.3ZM774 773L1121.4 219.8A653.2 653.2 0 0 1 1150.8 239.4ZM774 773L1149.7 238.7A653.2 653.2 0 0 1 1178.4 260ZM774 773L1219 294.8A653.2 653.2 0 0 1 1244.7 320.2ZM774 773L1243.8 319.2A653.2 653.2 0 0 1 1268.5 346.3ZM774 773L1302 388.5A653.2 653.2 0 0 1 1323.1 419.2ZM774 773L1322.3 418A653.2 653.2 0 0 1 1341 448.7ZM774 773L1426.3 738.7A653.2 653.2 0 0 1 1427.2 773.9ZM774 773L1427.2 772.5A653.2 653.2 0 0 1 1426.2 808.8ZM774 773L1421 862.9A653.2 653.2 0 0 1 1415 898.5ZM774 773L1415.3 897.2A653.2 653.2 0 0 1 1407.6 931.9ZM774 773L1391.8 985.1A653.2 653.2 0 0 1 1379.6 1017.9ZM774 773L1380.1 1016.6A653.2 653.2 0 0 1 1365.9 1049.3ZM774 773L1340.6 1098A653.2 653.2 0 0 1 1321.7 1128.9ZM774 773L1322.4 1127.8A653.2 653.2 0 0 1 1302.2 1157.2ZM774 773L1266.3 1202.3A653.2 653.2 0 0 1 1243.1 1227.6ZM774 773L1244 1226.6A653.2 653.2 0 0 1 1219.3 1250.9ZM774 773L1176.1 1287.8A653.2 653.2 0 0 1 1148.4 1308.3ZM774 773L1149.5 1307.5A653.2 653.2 0 0 1 1119.6 1327.3ZM774 773L1070.5 1355A653.2 653.2 0 0 1 1039.8 1369.7ZM774 773L1041 1369.1A653.2 653.2 0 0 1 1008.1 1382.8ZM774 773L953.6 1401A653.2 653.2 0 0 1 921.8 1409.3ZM774 773L923.2 1408.9A653.2 653.2 0 0 1 885.9 1416.6ZM774 773L829.6 1423.8A653.2 653.2 0 0 1 797.3 1425.8ZM774 773L798.6 1425.7A653.2 653.2 0 0 1 759.8 1426ZM774 773L704.8 1422.5A653.2 653.2 0 0 1 671.9 1418.2ZM774 773L673.3 1418.4A653.2 653.2 0 0 1 636.2 1411.5ZM774 773L390.5 244.2A653.2 653.2 0 0 1 420.9 223.4ZM774 773L419.8 224.2A653.2 653.2 0 0 1 439.9 211.7ZM774 773L438.8 212.4A653.2 653.2 0 0 1 470.1 194.8ZM774 773L499.2 180.4A653.2 653.2 0 0 1 532.1 166.3ZM774 773L530.8 166.8A653.2 653.2 0 0 1 553.4 158.2ZM774 773L617.3 138.9A653.2 653.2 0 0 1 652.6 131.2ZM774 773L651.3 131.4A653.2 653.2 0 0 1 674.3 127.5Z" fill="#FFF100"/>
</g>
<g clip-path="url(#ch1)">
<circle cx="774" cy="773" r="628.4" fill="#D5CB74"/>
<path d="M774 773L772.8 144.6A628.4 628.4 0 0 1 799.1 145.1ZM774 773L797.8 145.1A628.4 628.4 0 0 1 831 147.2ZM774 773L829.6 147.1A628.4 628.4 0 0 1 862.2 150.8ZM774 773L860.9 150.6A628.4 628.4 0 0 1 885.7 154.6ZM774 773L1344.3 509.1A628.4 628.4 0 0 1 1357.5 539.6ZM774 773L1357 538.4A628.4 628.4 0 0 1 1368.7 570.1ZM774 773L1368.3 568.8A628.4 628.4 0 0 1 1378.6 601.8ZM774 773L1378.3 600.5A628.4 628.4 0 0 1 1384.2 622.7ZM774 773L1247.6 1186A628.4 628.4 0 0 1 1225.3 1210.3ZM774 773L1226.2 1209.4A628.4 628.4 0 0 1 1202.4 1232.7ZM774 773L1203.4 1231.8A628.4 628.4 0 0 1 1177.6 1254.7ZM774 773L1178.6 1253.8A628.4 628.4 0 0 1 1159.8 1269.1ZM774 773L589.1 1373.6A628.4 628.4 0 0 1 555.5 1362.2ZM774 773L556.7 1362.6A628.4 628.4 0 0 1 525.6 1350.2ZM774 773L526.9 1350.8A628.4 628.4 0 0 1 498.1 1337.6ZM774 773L499.3 1338.2A628.4 628.4 0 0 1 476.4 1326.4ZM774 773L421.8 1293.4A628.4 628.4 0 0 1 395.7 1274.8ZM774 773L396.8 1275.6A628.4 628.4 0 0 1 376.4 1259.6ZM774 773L377.4 1260.5A628.4 628.4 0 0 1 351 1237.7ZM774 773L352 1238.6A628.4 628.4 0 0 1 329.3 1217ZM774 773L330.3 1218A628.4 628.4 0 0 1 306.9 1193.4ZM774 773L307.8 1194.4A628.4 628.4 0 0 1 290.6 1174.6ZM774 773L253.4 1124.9A628.4 628.4 0 0 1 235.6 1097ZM774 773L236.3 1098.2A628.4 628.4 0 0 1 224 1076.9ZM774 773L195.7 1018.9A628.4 628.4 0 0 1 183.1 986.9ZM774 773L183.6 988.1A628.4 628.4 0 0 1 175.4 964.3ZM774 773L175.8 965.5A628.4 628.4 0 0 1 166.6 934.2ZM774 773L167 935.4A628.4 628.4 0 0 1 159.1 902.7ZM774 773L159.4 904A628.4 628.4 0 0 1 153.2 870.2ZM774 773L153.4 871.5A628.4 628.4 0 0 1 150.1 848.2ZM774 773L147.1 728.9A628.4 628.4 0 0 1 150.4 695.4ZM774 773L150.2 696.7A628.4 628.4 0 0 1 155.4 662.3ZM774 773L155.2 663.6A628.4 628.4 0 0 1 162 630.6ZM774 773L161.7 631.9A628.4 628.4 0 0 1 167.5 608.7ZM774 773L209.3 497.2A628.4 628.4 0 0 1 225.3 466.6ZM774 773L224.7 467.8A628.4 628.4 0 0 1 242.4 438ZM774 773L315.1 343.7A628.4 628.4 0 0 1 339.5 319.1ZM774 773L338.5 320A628.4 628.4 0 0 1 355.4 304.3Z" fill="#F0EDCF"/>
<path d="M774 773L884.4 154.4A628.4 628.4 0 0 1 917.9 161.3ZM774 773L916.6 161A628.4 628.4 0 0 1 950.1 169.8ZM774 773L948.8 169.4A628.4 628.4 0 0 1 981.3 179.8ZM774 773L980 179.3A628.4 628.4 0 0 1 1000.3 186.8ZM774 773L1058.6 212.7A628.4 628.4 0 0 1 1088.4 228.9ZM774 773L1087.2 228.2A628.4 628.4 0 0 1 1109.3 241.5ZM774 773L1162 278.7A628.4 628.4 0 0 1 1188.1 300.3ZM774 773L1187.1 299.5A628.4 628.4 0 0 1 1203 313.9ZM774 773L1248.9 361.5A628.4 628.4 0 0 1 1269 385.9ZM774 773L1268.2 384.8A628.4 628.4 0 0 1 1282.8 404.2ZM774 773L1318.8 459.8A628.4 628.4 0 0 1 1334 487.8ZM774 773L1333.4 486.6A628.4 628.4 0 0 1 1344.9 510.3ZM774 773L1383.8 621.4A628.4 628.4 0 0 1 1391.1 654.3ZM774 773L1390.8 653A628.4 628.4 0 0 1 1396.6 687.6ZM774 773L1396.4 686.3A628.4 628.4 0 0 1 1400.1 719.7ZM774 773L1400 718.3A628.4 628.4 0 0 1 1401.6 741.3ZM774 773L1401.5 806.1A628.4 628.4 0 0 1 1398.9 839.4ZM774 773L1399 838.1A628.4 628.4 0 0 1 1396.2 860.8ZM774 773L1383.8 924.6A628.4 628.4 0 0 1 1374.6 957.8ZM774 773L1375 956.5A628.4 628.4 0 0 1 1367.9 978.3ZM774 773L1344 1037.6A628.4 628.4 0 0 1 1329.1 1067.5ZM774 773L1329.7 1066.4A628.4 628.4 0 0 1 1318.4 1086.8ZM774 773L1283 1141.6A628.4 628.4 0 0 1 1262.2 1168.7ZM774 773L1263 1167.7A628.4 628.4 0 0 1 1246.7 1187ZM774 773L1160.8 1268.3A628.4 628.4 0 0 1 1134.2 1287.9ZM774 773L1135.2 1287.2A628.4 628.4 0 0 1 1106.4 1306.3ZM774 773L1107.6 1305.6A628.4 628.4 0 0 1 1078.3 1322.8ZM774 773L1079.4 1322.2A628.4 628.4 0 0 1 1058.1 1333.5ZM774 773L1000.4 1359.2A628.4 628.4 0 0 1 968.2 1370.6ZM774 773L969.4 1370.2A628.4 628.4 0 0 1 945.5 1377.5ZM774 773L882.9 1391.9A628.4 628.4 0 0 1 850.7 1396.7ZM774 773L852 1396.5A628.4 628.4 0 0 1 826.1 1399.2ZM774 773L761.6 1401.3A628.4 628.4 0 0 1 730.9 1399.9ZM774 773L732.2 1400A628.4 628.4 0 0 1 706.1 1397.7ZM774 773L642.7 1387.5A628.4 628.4 0 0 1 611.5 1380ZM774 773L612.7 1380.4A628.4 628.4 0 0 1 587.9 1373.2ZM774 773L477.5 1327.1A628.4 628.4 0 0 1 450.6 1311.8ZM774 773L451.8 1312.5A628.4 628.4 0 0 1 420.7 1292.7ZM774 773L291.5 1175.6A628.4 628.4 0 0 1 271.7 1150.6ZM774 773L272.5 1151.6A628.4 628.4 0 0 1 252.7 1123.9ZM774 773L224.6 1078A628.4 628.4 0 0 1 208.9 1047.9ZM774 773L209.5 1049.1A628.4 628.4 0 0 1 195.2 1017.7ZM774 773L743 145.4A628.4 628.4 0 0 1 774.1 144.6Z" fill="#E1DBA2"/>
<path d="M774 773L999.1 186.3A628.4 628.4 0 0 1 1032.2 200.1ZM774 773L1031 199.6A628.4 628.4 0 0 1 1059.8 213.3ZM774 773L1108.2 240.8A628.4 628.4 0 0 1 1136.5 259.7ZM774 773L1135.4 258.9A628.4 628.4 0 0 1 1163 279.5ZM774 773L1202.1 313A628.4 628.4 0 0 1 1226.9 337.3ZM774 773L1226 336.4A628.4 628.4 0 0 1 1249.8 362.5ZM774 773L1282 403.1A628.4 628.4 0 0 1 1302.2 432.6ZM774 773L1301.5 431.5A628.4 628.4 0 0 1 1319.5 461ZM774 773L1401.5 740A628.4 628.4 0 0 1 1402.4 773.9ZM774 773L1402.4 772.6A628.4 628.4 0 0 1 1401.5 807.4ZM774 773L1396.4 859.5A628.4 628.4 0 0 1 1390.7 893.8ZM774 773L1390.9 892.5A628.4 628.4 0 0 1 1383.5 925.9ZM774 773L1368.3 977.1A628.4 628.4 0 0 1 1356.6 1008.6ZM774 773L1357.1 1007.4A628.4 628.4 0 0 1 1343.4 1038.8ZM774 773L1319.1 1085.7A628.4 628.4 0 0 1 1300.9 1115.4ZM774 773L1301.6 1114.3A628.4 628.4 0 0 1 1282.2 1142.6ZM774 773L1059.3 1332.9A628.4 628.4 0 0 1 1029.7 1347ZM774 773L1030.9 1346.5A628.4 628.4 0 0 1 999.2 1359.7ZM774 773L946.8 1377.2A628.4 628.4 0 0 1 916.2 1385.1ZM774 773L917.5 1384.8A628.4 628.4 0 0 1 881.6 1392.1ZM774 773L827.5 1399.1A628.4 628.4 0 0 1 796.4 1401ZM774 773L797.7 1401A628.4 628.4 0 0 1 760.3 1401.3ZM774 773L707.4 1397.9A628.4 628.4 0 0 1 675.8 1393.7ZM774 773L677.1 1393.9A628.4 628.4 0 0 1 641.4 1387.3ZM774 773L150.3 849.5A628.4 628.4 0 0 1 147 815.6ZM774 773L147.1 816.9A628.4 628.4 0 0 1 145.7 782.5ZM774 773L145.7 783.9A628.4 628.4 0 0 1 146 749.8ZM774 773L146 751.1A628.4 628.4 0 0 1 147.2 727.6ZM774 773L167.1 609.9A628.4 628.4 0 0 1 176.8 577.4ZM774 773L176.4 578.6A628.4 628.4 0 0 1 187.8 546.6ZM774 773L187.3 547.8A628.4 628.4 0 0 1 200.5 516.2ZM774 773L199.9 517.4A628.4 628.4 0 0 1 209.9 496ZM774 773L272.8 393.9A628.4 628.4 0 0 1 294.2 367.2ZM774 773L293.3 368.2A628.4 628.4 0 0 1 316 342.8ZM774 773L354.4 305.2A628.4 628.4 0 0 1 380.5 283.1ZM774 773L379.5 283.9A628.4 628.4 0 0 1 406.1 263.5ZM774 773L405.1 264.3A628.4 628.4 0 0 1 434.3 244.3ZM774 773L433.2 245A628.4 628.4 0 0 1 452.6 233ZM774 773L451.5 233.7A628.4 628.4 0 0 1 481.6 216.8ZM774 773L480.4 217.4A628.4 628.4 0 0 1 510.8 202.4ZM774 773L509.6 202.9A628.4 628.4 0 0 1 541.2 189.3ZM774 773L540 189.8A628.4 628.4 0 0 1 561.8 181.5ZM774 773L560.5 182A628.4 628.4 0 0 1 593.1 171.2ZM774 773L591.8 171.6A628.4 628.4 0 0 1 624.5 162.6ZM774 773L623.3 162.9A628.4 628.4 0 0 1 657.2 155.5ZM774 773L655.9 155.8A628.4 628.4 0 0 1 678.1 152ZM774 773L676.8 152.2A628.4 628.4 0 0 1 711.5 147.7ZM774 773L710.2 147.9A628.4 628.4 0 0 1 744.3 145.3Z" fill="#C9BC47"/>
<path d="M774 773L241.7 439.1A628.4 628.4 0 0 1 260.4 410.9ZM774 773L259.6 412A628.4 628.4 0 0 1 273.6 392.9Z" fill="#D5CB74"/>
</g>
<g clip-path="url(#csto)">
<circle cx="774" cy="773" r="602.2" fill="#BEBEB9"/>
<path d="M774 773L772.8 170.8A602.2 602.2 0 0 1 798.1 171.3ZM774 773L827.3 173.2A602.2 602.2 0 0 1 858.5 176.8ZM774 773L879.8 180.2A602.2 602.2 0 0 1 911.9 186.8ZM774 773L941.5 194.6A602.2 602.2 0 0 1 972.6 204.5ZM774 773L989.7 210.8A602.2 602.2 0 0 1 1021.4 224ZM774 773L1046.7 236.1A602.2 602.2 0 0 1 1075.3 251.6ZM774 773L1094.3 263A602.2 602.2 0 0 1 1121.4 281.1ZM774 773L1145.8 299.3A602.2 602.2 0 0 1 1170.8 320ZM774 773L1184.2 332.1A602.2 602.2 0 0 1 1208 355.5ZM774 773L1229.1 378.6A602.2 602.2 0 0 1 1248.3 402ZM774 773L1260.8 418.5A602.2 602.2 0 0 1 1280.2 446.8ZM774 773L1296.1 472.9A602.2 602.2 0 0 1 1310.6 499.7ZM774 773L1320.5 520.1A602.2 602.2 0 0 1 1333.1 549.4ZM774 773L1343.5 577.3A602.2 602.2 0 0 1 1353.4 608.9ZM774 773L1358.4 627.7A602.2 602.2 0 0 1 1365.4 659.2ZM774 773L1370.4 689.9A602.2 602.2 0 0 1 1374 721.9ZM774 773L1375.4 741.4A602.2 602.2 0 0 1 1376.2 773.8ZM774 773L1375.4 804.7A602.2 602.2 0 0 1 1372.8 836.7ZM774 773L1370.5 855.9A602.2 602.2 0 0 1 1365 888.7ZM774 773L1358.4 918.3A602.2 602.2 0 0 1 1349.6 950.1ZM774 773L1343.6 968.6A602.2 602.2 0 0 1 1332.3 998.8ZM774 773L1320.2 1026.5A602.2 602.2 0 0 1 1306 1055.3ZM774 773L1296.4 1072.6A602.2 602.2 0 0 1 1278.9 1101.2ZM774 773L1261.7 1126.2A602.2 602.2 0 0 1 1241.8 1152.2ZM774 773L1227.9 1168.8A602.2 602.2 0 0 1 1206.5 1192.1ZM774 773L1185.5 1212.7A602.2 602.2 0 0 1 1160.8 1234.6ZM774 773L1144.7 1247.6A602.2 602.2 0 0 1 1119.1 1266.5ZM774 773L1093.7 1283.4A602.2 602.2 0 0 1 1065.6 1299.9ZM774 773L1047.4 1309.6A602.2 602.2 0 0 1 1019 1323.1ZM774 773L991 1334.7A602.2 602.2 0 0 1 960.1 1345.7ZM774 773L939.6 1352A602.2 602.2 0 0 1 910.3 1359.6ZM774 773L878.4 1366.1A602.2 602.2 0 0 1 847.5 1370.7ZM774 773L825.2 1373A602.2 602.2 0 0 1 795.4 1374.8ZM774 773L762.1 1375.1A602.2 602.2 0 0 1 732.7 1373.8ZM774 773L710.2 1371.8A602.2 602.2 0 0 1 679.9 1367.8ZM774 773L648.2 1361.9A602.2 602.2 0 0 1 618.2 1354.7ZM774 773L596.8 1348.5A602.2 602.2 0 0 1 564.6 1337.6ZM774 773L537.2 1326.7A602.2 602.2 0 0 1 509.6 1314.1ZM774 773L489.9 1304A602.2 602.2 0 0 1 464.1 1289.3ZM774 773L436.5 1271.7A602.2 602.2 0 0 1 411.5 1253.9ZM774 773L394 1240.1A602.2 602.2 0 0 1 368.6 1218.3ZM774 773L348.8 1199.4A602.2 602.2 0 0 1 326.4 1175.9ZM774 773L311.6 1158.8A602.2 602.2 0 0 1 292.6 1134.8ZM774 773L275.1 1110.3A602.2 602.2 0 0 1 258 1083.5ZM774 773L247.5 1065.3A602.2 602.2 0 0 1 232.5 1036.4ZM774 773L219.8 1008.7A602.2 602.2 0 0 1 207.8 978ZM774 773L200.8 957.5A602.2 602.2 0 0 1 191.9 927.4ZM774 773L185 898.5A602.2 602.2 0 0 1 179.1 866.2ZM774 773L176.3 846.3A602.2 602.2 0 0 1 173.2 813.9ZM774 773L171.9 783.4A602.2 602.2 0 0 1 172.2 750.7ZM774 773L173.3 730.8A602.2 602.2 0 0 1 176.4 698.7ZM774 773L181 668.1A602.2 602.2 0 0 1 187.5 636.5ZM774 773L192.4 616.7A602.2 602.2 0 0 1 201.7 585.5ZM774 773L211.8 557.2A602.2 602.2 0 0 1 224.4 526.9ZM774 773L232.9 508.7A602.2 602.2 0 0 1 248.2 479.4ZM774 773L263.9 453A602.2 602.2 0 0 1 281.8 426ZM774 773L293.7 409.7A602.2 602.2 0 0 1 314.2 384.1ZM774 773L420.5 285.5A602.2 602.2 0 0 1 448.5 266.4ZM774 773L464.9 256.2A602.2 602.2 0 0 1 493.8 240ZM774 773L520.6 226.7A602.2 602.2 0 0 1 550.9 213.6ZM774 773L569.4 206.6A602.2 602.2 0 0 1 600.6 196.3ZM774 773L629.5 188.4A602.2 602.2 0 0 1 662.1 181.3ZM774 773L680.8 178.1A602.2 602.2 0 0 1 714.1 173.8Z" fill="#9D9D98"/>
<path d="M774 773L796.8 171.2A602.2 602.2 0 0 1 828.6 173.3ZM774 773L857.3 176.6A602.2 602.2 0 0 1 881.1 180.4ZM774 773L910.7 186.5A602.2 602.2 0 0 1 942.7 194.9ZM774 773L971.4 204.1A602.2 602.2 0 0 1 990.9 211.2ZM774 773L1020.3 223.5A602.2 602.2 0 0 1 1047.9 236.7ZM774 773L1074.2 251A602.2 602.2 0 0 1 1095.3 263.7ZM774 773L1120.4 280.4A602.2 602.2 0 0 1 1146.8 300.1ZM774 773L1169.9 319.2A602.2 602.2 0 0 1 1185.2 333ZM774 773L1207.1 354.6A602.2 602.2 0 0 1 1229.9 379.6ZM774 773L1247.6 401A602.2 602.2 0 0 1 1261.6 419.5ZM774 773L1279.5 445.7A602.2 602.2 0 0 1 1296.7 474ZM774 773L1310 498.6A602.2 602.2 0 0 1 1321.1 521.3ZM774 773L1332.7 548.2A602.2 602.2 0 0 1 1343.9 578.5ZM774 773L1353.1 607.7A602.2 602.2 0 0 1 1358.7 628.9ZM774 773L1365.1 658A602.2 602.2 0 0 1 1370.6 691.2ZM774 773L1373.9 720.6A602.2 602.2 0 0 1 1375.4 742.6ZM774 773L1376.2 772.6A602.2 602.2 0 0 1 1375.3 806ZM774 773L1373 835.4A602.2 602.2 0 0 1 1370.3 857.1ZM774 773L1365.2 887.5A602.2 602.2 0 0 1 1358.1 919.5ZM774 773L1349.9 948.9A602.2 602.2 0 0 1 1343.2 969.8ZM774 773L1332.7 997.6A602.2 602.2 0 0 1 1319.7 1027.7ZM774 773L1306.5 1054.1A602.2 602.2 0 0 1 1295.7 1073.7ZM774 773L1279.6 1100.1A602.2 602.2 0 0 1 1261 1127.2ZM774 773L1242.6 1151.2A602.2 602.2 0 0 1 1227 1169.7ZM774 773L1207.3 1191.2A602.2 602.2 0 0 1 1184.5 1213.6ZM774 773L1161.7 1233.8A602.2 602.2 0 0 1 1143.7 1248.4ZM774 773L1120.2 1265.8A602.2 602.2 0 0 1 1092.6 1284ZM774 773L1066.7 1299.3A602.2 602.2 0 0 1 1046.3 1310.1ZM774 773L1020.2 1322.6A602.2 602.2 0 0 1 989.8 1335.2ZM774 773L961.3 1345.3A602.2 602.2 0 0 1 938.4 1352.3ZM774 773L911.5 1359.3A602.2 602.2 0 0 1 877.1 1366.3ZM774 773L848.7 1370.5A602.2 602.2 0 0 1 824 1373.1ZM774 773L796.7 1374.8A602.2 602.2 0 0 1 760.9 1375.1ZM774 773L734 1373.9A602.2 602.2 0 0 1 709 1371.7ZM774 773L681.1 1368A602.2 602.2 0 0 1 646.9 1361.6ZM774 773L619.5 1355A602.2 602.2 0 0 1 595.6 1348.2ZM774 773L565.8 1338.1A602.2 602.2 0 0 1 536 1326.2ZM774 773L510.8 1314.6A602.2 602.2 0 0 1 488.8 1303.4ZM774 773L465.2 1290A602.2 602.2 0 0 1 435.4 1271ZM774 773L412.5 1254.6A602.2 602.2 0 0 1 393 1239.3ZM774 773L369.6 1219.2A602.2 602.2 0 0 1 347.9 1198.5ZM774 773L327.3 1176.8A602.2 602.2 0 0 1 310.8 1157.8ZM774 773L293.4 1135.8A602.2 602.2 0 0 1 274.4 1109.2ZM774 773L258.7 1084.6A602.2 602.2 0 0 1 246.9 1064.2ZM774 773L233 1037.6A602.2 602.2 0 0 1 219.3 1007.5ZM774 773L208.2 979.2A602.2 602.2 0 0 1 200.4 956.3ZM774 773L192.3 928.7A602.2 602.2 0 0 1 184.8 897.3ZM774 773L179.2 867.4A602.2 602.2 0 0 1 176.1 845ZM774 773L173.3 815.1A602.2 602.2 0 0 1 171.9 782.1ZM774 773L172.2 752A602.2 602.2 0 0 1 173.4 729.5ZM774 773L176.3 699.9A602.2 602.2 0 0 1 181.2 666.9ZM774 773L187.2 637.7A602.2 602.2 0 0 1 192.8 615.5ZM774 773L201.3 586.7A602.2 602.2 0 0 1 212.3 556ZM774 773L223.9 528.1A602.2 602.2 0 0 1 233.4 507.6ZM774 773L247.6 480.5A602.2 602.2 0 0 1 264.5 451.9ZM774 773L281.1 427.1A602.2 602.2 0 0 1 294.5 408.7ZM774 773L313.4 385.1A602.2 602.2 0 0 1 335.1 360.7ZM774 773L447.4 267A602.2 602.2 0 0 1 466 255.5ZM774 773L492.7 240.6A602.2 602.2 0 0 1 521.8 226.2ZM774 773L549.8 214.1A602.2 602.2 0 0 1 570.6 206.2ZM774 773L599.4 196.7A602.2 602.2 0 0 1 630.8 188.1ZM774 773L660.8 181.5A602.2 602.2 0 0 1 682.1 177.9ZM774 773L712.8 173.9A602.2 602.2 0 0 1 745.5 171.5Z" fill="#BEBEB9"/>
<path d="M774 773L334.2 361.6A602.2 602.2 0 0 1 357.6 338ZM774 773L356.7 338.9A602.2 602.2 0 0 1 372.8 323.9ZM774 773L371.9 324.7A602.2 602.2 0 0 1 396.9 303.5ZM774 773L395.9 304.3A602.2 602.2 0 0 1 421.5 284.8Z" fill="#CDCDCB"/>
<path d="M774 773L744.3 171.5A602.2 602.2 0 0 1 774.1 170.8Z" fill="#FEE591"/>
</g>
<g clip-path="url(#csed)">
<path d="M774 773L773 261.5A511.5 511.5 0 0 1 820.4 263.6ZM774 773L863.9 269.5A511.5 511.5 0 0 1 917.3 282ZM774 773L957.2 295.4A511.5 511.5 0 0 1 1006.6 317.5ZM774 773L1046 339.8A511.5 511.5 0 0 1 1090.7 371.3ZM774 773L1122.5 398.5A511.5 511.5 0 0 1 1161.3 438.8ZM774 773L1187.5 471.9A511.5 511.5 0 0 1 1218 519ZM774 773L1238.2 558.2A511.5 511.5 0 0 1 1258.1 607.8ZM774 773L1270.4 649.6A511.5 511.5 0 0 1 1280.8 703.5ZM774 773L1284.8 746.1A511.5 511.5 0 0 1 1284.7 801ZM774 773L1280.6 843.4A511.5 511.5 0 0 1 1270.1 897.4ZM774 773L1257.8 939.1A511.5 511.5 0 0 1 1237.5 989.3ZM774 773L1217.7 1027.5A511.5 511.5 0 0 1 1187.7 1073.9ZM774 773L1159.5 1109.2A511.5 511.5 0 0 1 1122.7 1147.2ZM774 773L1088.8 1176.1A511.5 511.5 0 0 1 1044.6 1207.1ZM774 773L1006.2 1228.7A511.5 511.5 0 0 1 957.3 1250.5ZM774 773L914.6 1264.8A511.5 511.5 0 0 1 861.6 1276.9ZM774 773L817.5 1282.6A511.5 511.5 0 0 1 762.8 1284.4ZM774 773L719.8 1281.6A511.5 511.5 0 0 1 666.1 1273ZM774 773L623.5 1261.9A511.5 511.5 0 0 1 571.8 1242.9ZM774 773L532.7 1224A511.5 511.5 0 0 1 486.4 1196ZM774 773L451.2 1169.8A511.5 511.5 0 0 1 412.1 1134.4ZM774 773L381.3 1100.7A511.5 511.5 0 0 1 349.6 1058.6ZM774 773L326.8 1021.3A511.5 511.5 0 0 1 302.9 972.2ZM774 773L473.7 358.9A511.5 511.5 0 0 1 512.4 333.5ZM774 773L558.8 309A511.5 511.5 0 0 1 601.2 291.6ZM774 773L651.3 276.4A511.5 511.5 0 0 1 695.9 267.5Z" fill="#3D7A70"/>
<path d="M774 773L819.3 263.5A511.5 511.5 0 0 1 864.9 269.6ZM774 773L916.3 281.7A511.5 511.5 0 0 1 958.2 295.8ZM774 773L1005.7 317A511.5 511.5 0 0 1 1046.9 340.4ZM774 773L1089.8 370.6A511.5 511.5 0 0 1 1123.2 399.3ZM774 773L1160.6 438A511.5 511.5 0 0 1 1188.1 472.8ZM774 773L1217.5 518.1A511.5 511.5 0 0 1 1238.7 559.2ZM774 773L1257.7 606.8A511.5 511.5 0 0 1 1270.6 650.6ZM774 773L1280.6 702.4A511.5 511.5 0 0 1 1284.8 747.2ZM774 773L1284.8 799.9A511.5 511.5 0 0 1 1280.5 844.5ZM774 773L1270.4 896.4A511.5 511.5 0 0 1 1257.4 940.1ZM774 773L1238 988.4A511.5 511.5 0 0 1 1217.2 1028.4ZM774 773L1188.3 1073A511.5 511.5 0 0 1 1158.8 1110ZM774 773L1123.5 1146.5A511.5 511.5 0 0 1 1088 1176.8ZM774 773L1045.5 1206.5A511.5 511.5 0 0 1 1005.3 1229.2ZM774 773L958.3 1250.1A511.5 511.5 0 0 1 913.6 1265.1ZM774 773L862.6 1276.8A511.5 511.5 0 0 1 816.4 1282.7ZM774 773L763.9 1284.4A511.5 511.5 0 0 1 718.8 1281.5ZM774 773L667.1 1273.2A511.5 511.5 0 0 1 622.5 1261.5ZM774 773L572.8 1243.3A511.5 511.5 0 0 1 531.7 1223.5ZM774 773L487.3 1196.6A511.5 511.5 0 0 1 450.4 1169.1ZM774 773L412.8 1135.2A511.5 511.5 0 0 1 380.6 1099.9ZM774 773L350.2 1059.5A511.5 511.5 0 0 1 326.3 1020.4ZM774 773L303.3 973.2A511.5 511.5 0 0 1 286.8 928.7ZM774 773L511.5 334A511.5 511.5 0 0 1 559.8 308.5ZM774 773L600.2 291.9A511.5 511.5 0 0 1 652.3 276.2ZM774 773L694.9 267.7A511.5 511.5 0 0 1 749.8 262.1Z" fill="#8EAAA4"/>
<path d="M774 773L287.1 929.7A511.5 511.5 0 0 1 273.5 878.6ZM774 773L266.3 835.2A511.5 511.5 0 0 1 262.6 780.8ZM774 773L263.8 737.1A511.5 511.5 0 0 1 270.5 682.9ZM774 773L280 640.3A511.5 511.5 0 0 1 296.9 588.7ZM774 773L400.5 423.6A511.5 511.5 0 0 1 420.3 403.5ZM774 773L432.5 392.2A511.5 511.5 0 0 1 453.7 374.2Z" fill="#648D86"/>
<path d="M774 773L273.7 879.6A511.5 511.5 0 0 1 266.2 834.2ZM774 773L262.6 781.8A511.5 511.5 0 0 1 263.8 736.1ZM774 773L270.3 683.9A511.5 511.5 0 0 1 280.3 639.2ZM774 773L296.5 589.7A511.5 511.5 0 0 1 314.9 547.6ZM774 773L419.5 404.3A511.5 511.5 0 0 1 433.3 391.5ZM774 773L452.9 374.9A511.5 511.5 0 0 1 474.6 358.3Z" fill="#87A59F"/>
<path d="M774 773L314.4 548.5A511.5 511.5 0 0 1 341.3 500.3ZM774 773L340.7 501.2A511.5 511.5 0 0 1 366.7 463.6ZM774 773L366 464.5A511.5 511.5 0 0 1 401.2 422.8Z" fill="#BACBC7"/>
<path d="M774 773L748.7 262.1A511.5 511.5 0 0 1 773 261.5Z" fill="#FEE591"/>
</g>
<g clip-path="url(#cflo)">
<path d="M774 773L773.2 375A398 398 0 0 1 844.8 381.3ZM774 773L843.9 381.2A398 398 0 0 1 917.3 401.7ZM774 773L1135.2 605.9A398 398 0 0 1 1160.4 677.8ZM774 773L1160.2 677A398 398 0 0 1 1171.5 752.9ZM774 773L1074 1034.6A398 398 0 0 1 1018.3 1087.2ZM774 773L1019 1086.7A398 398 0 0 1 953.9 1128ZM774 773L426 966.2A398 398 0 0 1 394.9 894.1ZM774 773L395.1 894.9A398 398 0 0 1 378.9 820.6ZM774 773L377 745.1A398 398 0 0 1 389.9 668.9ZM774 773L483.3 501.1A398 398 0 0 1 508.9 476.2ZM774 773L540.3 450.8A398 398 0 0 1 607.3 411.6ZM774 773L606.6 411.9A398 398 0 0 1 679.3 386.4ZM774 773L678.5 386.6A398 398 0 0 1 755.2 375.4Z" fill="#BAD0CC"/>
<path d="M774 773L916.6 401.4A398 398 0 0 1 986.4 436.4ZM774 773L1045.1 481.6A398 398 0 0 1 1096.2 539.4ZM774 773L1171.5 752.1A398 398 0 0 1 1168.1 828.6ZM774 773L1150.4 902.2A398 398 0 0 1 1118.8 971.8ZM774 773L954.7 1127.6A398 398 0 0 1 882.6 1155.9ZM774 773L807.9 1169.6A398 398 0 0 1 731 1168.7Z" fill="#A5C5C0"/>
<path d="M774 773L985.7 436A398 398 0 0 1 1045.7 482.2ZM774 773L1095.7 538.7A398 398 0 0 1 1135.6 606.6ZM774 773L1168.2 827.8A398 398 0 0 1 1150.2 903ZM774 773L1119.2 971A398 398 0 0 1 1073.4 1035.2ZM774 773L883.4 1155.7A398 398 0 0 1 807 1169.6ZM774 773L731.8 1168.8A398 398 0 0 1 656.1 1153.1Z" fill="#8BB4AD"/>
<path d="M774 773L656.9 1153.4A398 398 0 0 1 585.5 1123.5ZM774 773L522.8 1081.7A398 398 0 0 1 467.9 1027.3Z" fill="#C1D6D3"/>
<path d="M774 773L586.2 1123.9A398 398 0 0 1 522.2 1081.2ZM774 773L468.4 1028A398 398 0 0 1 425.6 965.5Z" fill="#7AAAA3"/>
<path d="M774 773L379 821.4A398 398 0 0 1 377 744.3ZM774 773L389.6 669.7A398 398 0 0 1 416.7 597.6ZM774 773L456.6 532.9A398 398 0 0 1 483.9 500.5ZM774 773L508.3 476.7A398 398 0 0 1 541 450.3Z" fill="#63A09A"/>
<path d="M774 773L416.4 598.3A398 398 0 0 1 437.3 560.8Z" fill="#CBDDD9"/>
<path d="M774 773L436.8 561.5A398 398 0 0 1 457.1 532.3Z" fill="#94B9B4"/>
<path d="M774 773L754.3 375.5A398 398 0 0 1 773.2 375Z" fill="#FEE591"/>
</g>
<g clip-path="url(#ctid)">
<path d="M774 773L773.5 486.6A286.4 286.4 0 0 1 824.9 491.2ZM774 773L824.3 491.1A286.4 286.4 0 0 1 877.1 505.8ZM774 773L1033.9 652.7A286.4 286.4 0 0 1 1052.1 704.5ZM774 773L1051.9 703.9A286.4 286.4 0 0 1 1060 758.6ZM774 773L989.9 961.2A286.4 286.4 0 0 1 949.8 999.1ZM774 773L950.3 998.7A286.4 286.4 0 0 1 903.5 1028.5ZM774 773L689.7 1046.7A286.4 286.4 0 0 1 592.8 994.8ZM774 773L593.3 995.2A286.4 286.4 0 0 1 523.3 911.5ZM774 773L523.6 912A286.4 286.4 0 0 1 501.2 860.2ZM774 773L501.4 860.7A286.4 286.4 0 0 1 488.3 752.3ZM774 773L488.3 752.9A286.4 286.4 0 0 1 516.9 646.8ZM774 773L516.7 647.3A286.4 286.4 0 0 1 565.3 576.9ZM774 773L564.8 577.3A286.4 286.4 0 0 1 606.3 540.8ZM774 773L605.9 541.2A286.4 286.4 0 0 1 654.1 512.9ZM774 773L653.5 513.2A286.4 286.4 0 0 1 705.9 494.8ZM774 773L705.3 495A286.4 286.4 0 0 1 760.5 486.9Z" fill="#AFADD9"/>
<path d="M774 773L876.6 505.6A286.4 286.4 0 0 1 969.5 563.7ZM774 773L1060 758A286.4 286.4 0 0 1 1044.7 866.6ZM774 773L904 1028.2A286.4 286.4 0 0 1 797.8 1058.4Z" fill="#8F8DC7"/>
<path d="M774 773L969.1 563.3A286.4 286.4 0 0 1 1034.2 653.3ZM774 773L1044.9 866A286.4 286.4 0 0 1 989.5 961.7ZM774 773L798.4 1058.4A286.4 286.4 0 0 1 689.2 1046.5Z" fill="#555BAA"/>
<path d="M774 773L759.9 486.9A286.4 286.4 0 0 1 773.5 486.6Z" fill="#FEE591"/>
</g>
<g clip-path="url(#cwave)">
<path d="M774 773L773.6 588.5A184.5 184.5 0 0 1 806.8 591.4ZM774 773L941.4 695.5A184.5 184.5 0 0 1 953.1 728.9ZM774 773L913.1 894.3A184.5 184.5 0 0 1 887.3 918.6ZM774 773L719.7 949.3A184.5 184.5 0 0 1 657.3 915.9ZM774 773L598.4 829.5A184.5 184.5 0 0 1 590 759.7ZM774 773L665.7 623.6A184.5 184.5 0 0 1 696.7 605.5Z" fill="#2567B2"/>
<path d="M774 773L806.4 591.4A184.5 184.5 0 0 1 840.4 600.9ZM774 773L953.1 728.5A184.5 184.5 0 0 1 958.3 763.7ZM774 773L887.6 918.4A184.5 184.5 0 0 1 857.4 937.6ZM774 773L657.6 916.1A184.5 184.5 0 0 1 612.5 862.2ZM774 773L590 760.1A184.5 184.5 0 0 1 608.4 691.7ZM774 773L696.4 605.6A184.5 184.5 0 0 1 730.1 593.8Z" fill="#5D82C4"/>
<path d="M774 773L840.1 600.7A184.5 184.5 0 0 1 941.6 695.9ZM774 773L958.2 763.3A184.5 184.5 0 0 1 912.8 894.6ZM774 773L857.8 937.4A184.5 184.5 0 0 1 719.3 949.2ZM774 773L612.7 862.6A184.5 184.5 0 0 1 598.3 829.2ZM774 773L608.2 692A184.5 184.5 0 0 1 639.5 646.7ZM774 773L729.7 593.9A184.5 184.5 0 0 1 765.3 588.7Z" fill="#96A8D6"/>
<path d="M774 773L639.3 647A184.5 184.5 0 0 1 666 623.4Z" fill="#6F87C6"/>
<path d="M774 773L764.9 588.7A184.5 184.5 0 0 1 773.6 588.5Z" fill="#FEE591"/>
</g>
<g clip-path="url(#cgeo)">
<path d="M774 773L773.8 668.2A104.8 104.8 0 0 1 869.2 729.2Z" fill="#F8F044"/>
<path d="M774 773L869.2 729A104.8 104.8 0 0 1 852.9 842.1Z" fill="#FDD11F"/>
<path d="M774 773L853 841.9A104.8 104.8 0 0 1 742.9 873.1Z" fill="#FAA41B"/>
<path d="M774 773L743.2 873.2A104.8 104.8 0 0 1 674.1 804.9Z" fill="#DF7B29"/>
<path d="M774 773L674.2 805.1A104.8 104.8 0 0 1 697.6 701.2Z" fill="#C6602B"/>
<path d="M774 773L697.4 701.4A104.8 104.8 0 0 1 712.6 688Z" fill="#A0702A"/>
<path d="M774 773L712.4 688.1A104.8 104.8 0 0 1 769 668.3Z" fill="#FFCB66"/>
<path d="M774 773L768.8 668.3A104.8 104.8 0 0 1 773.8 668.2Z" fill="#FEE591"/>
</g>
<g clip-path="url(#ch5)" fill="none">
<path d="M793.1 267.9L801.8 38.5M808.7 382.5L839.1 40.9M843.9 272.4L875.7 45.1M791.4 675.7L903.1 49.4M888.7 280.7L940.8 57.2M883 396.5L978.4 67M939.7 295.4L1015 78.6M809.4 680.7L1037.3 86.8M980.7 311.7L1074.6 102.3M951.5 423.5L1106.9 117.7M1026 334.8L1140.4 135.8M923.1 535.5L1164.9 150.6M1064.7 359.5L1196.7 171.7M1016 464.6L1227.8 194.8M1106.3 392.1L1257.2 219.1M895.6 642.3L1274.7 234.9M1137.6 421.8L1302.6 262.3M1070.2 516.3L1329.5 291.7M1171.5 460.7L1352 319M1000.7 607.9L1368.2 340.4M1198.3 498.3L1391 373.6M1113.9 577.7L1411.2 406.7M1224 542.6L1428.2 438.1M1243 584.3L1455.9 498.6M1144.7 645.6L1469.1 534.2M1260.1 634.3L1480.8 571.3M869.9 749.2L1487.3 595.7M1270.2 676.5L1495.5 632.6M1162.3 718.9L1502 671.6M1277.6 729L1506.2 709.1M872.7 767.8L1508 734.4M1279.5 772.6L1509 772.5M1165.5 793.7L1508 811.7M1276.8 825.4L1505 849.2M1051.7 811.6L1502 874.1M1270.3 869.1L1495.6 912.7M1154.4 867.6L1487.3 950.3M1257.5 920.6L1477 987.6M942.8 831L1469.2 1011.7M1243 961.5L1456 1047.1M1129.6 938L1440.7 1082.5M1221 1009L1424 1116.1M1017.2 912.5L1411.6 1138.7M1198.4 1047.6L1391.1 1172.2M1091.5 1002.9L1369.3 1204.1M1167.3 1090.5L1345.9 1234.7M1137.7 1124L1302.9 1283.4M1041.8 1059.2L1276.2 1309.7M1099.5 1159.8L1247.2 1335.4M834.8 850.9L1226.4 1352.3M1064.6 1186.6L1196.5 1374.4M982.1 1105.2L1164.1 1395.9M1019.7 1214.8L1131.2 1415.3M818.9 861.1L1107.7 1427.9M980.7 1234.3L1074.5 1443.8M915.2 1138.7L1038.8 1458.6M931.2 1253.4L1002.6 1471.5M851.1 1042.6L976.1 1479.7M889.4 1265.1L941.8 1488.6M841.9 1159.1L901.4 1496.9M836.7 1274.6L865.2 1502.3M789.2 950.9L836.5 1505.3M793.1 1278.1L801.7 1507.5M766.3 1164.9L759.5 1507.9M740.4 1277.4L725.2 1506.4M744.3 1051.8L696.2 1503.9M696.1 1272.5L660.7 1499.2M692.1 1156.3L620.4 1491.8M644.3 1261.6L585.4 1483.4M599.2 1247.3L519.8 1462.7M619.8 1133.4L484.9 1448.8M553 1227.6L452.7 1434.1M641.7 1020.2L427.2 1421.1M514.8 1207L397.1 1404M554.3 1097.6L362 1381.7M470.6 1177.3L332.8 1360.8M711.6 849.7L310.2 1343.2M434.5 1147.5L280.4 1317.6M497.2 1050.6L255 1293.4M399 1112L228.7 1265.9M558.7 952.6L209.6 1243.9M370.6 1077.6L187.4 1215.8M449.2 992.5L165.1 1184.6M341.4 1034.6L145 1153.3M687.6 821L131.4 1129.8M319.9 995.1L113.7 1095.9M413.3 926.4L97.6 1060.7M299 946.1L83.4 1024.6M285.7 903.7L64 963M390.6 854.7L55.1 926.2M274.8 852.3L48.1 888.2M495.7 807.1L44.5 862.4M269.7 808.3L40.8 824.4M382.1 779.8L39.1 785.7M268.8 755.4L39.4 747.3M675.4 766.1L40.8 721.5M272.2 711.7L44.4 683.8M388 704.7L50.2 645M281.4 659.5L57.8 607.9M503.2 700.2L64.2 582.3M293.3 616.6L75.1 545.6M408 632.5L87.8 509.6M312.2 567.4L102.5 474M685.2 729.6L113.6 450.5M332.1 527.5L131.5 416M536.5 624L151.4 382.4M360.2 482.6L172.4 350.8M550.4 603.9L187.8 329.6M387.3 447.4L211.8 299.6M502.3 490.4L264.6 243.1M586.8 564.3L283.2 225.8M527.9 467.9L312.5 200.9M499.9 348.3L375.4 155.5M572.8 436.6L396.8 142.2M537.9 326.1L430.6 123.1M732.4 683.3L464.8 106.2M585.8 303.8L500.3 90.8M640.8 404.3L524.3 81.7M627.5 289.2L560.9 69.6M750.3 677L597.7 59.5M679 276.5L635.9 51.1M713.4 385.7L660.3 46.8M722.7 270.1L699.3 41.8" stroke="#111" stroke-width="1.25"/>
<path d="M774 773L772.6 38M774 773L1441.1 464.4M774 773L1328 1256.1M774 773L557.8 1475.5M774 773L74.3 998.2M774 773L237.2 270.9M774 773L342.5 178M774 773L737.7 38.9" stroke="#000" stroke-width="5.1"/>
</g>
<g font-size="17" text-anchor="middle" fill="#111">
<g transform="scale(0.96 1)">
<text x="814.1" y="169.5">1</text>
<text x="846" y="170.6">1</text>
<text x="877.8" y="173.3">1</text>
<text x="905.5" y="176.9">1</text>
<text x="933.7" y="181.9">2</text>
<text x="966.2" y="189.2">2</text>
<text x="998.2" y="198.1">2</text>
<text x="1023.6" y="206.4">2</text>
<text x="1049.4" y="216">4</text>
<text x="1079.4" y="228.9">4</text>
<text x="1107.9" y="242.8">2</text>
<text x="1132.9" y="256.5">2</text>
<text x="1157.2" y="271.3">4</text>
<text x="1184.4" y="289.7">4</text>
<text x="1210.5" y="309.3">2</text>
<text x="1230.7" y="326">2</text>
<text x="1250.4" y="343.8">4</text>
<text x="1274.1" y="367.4">4</text>
<text x="1295.4" y="390.9">2</text>
<text x="1312" y="411.1">2</text>
<text x="1329" y="433.7">4</text>
<text x="1347.5" y="461.2">4</text>
<text x="1363.6" y="488">2</text>
<text x="1376.4" y="511.9">2</text>
<text x="1388.4" y="536.9">1</text>
<text x="1400.6" y="565.9">1</text>
<text x="1411.3" y="596">1</text>
<text x="1419.1" y="621.6">1</text>
<text x="1425.5" y="647">2</text>
<text x="1431.9" y="678.4">2</text>
<text x="1436.5" y="710.1">2</text>
<text x="1439" y="736.2">2</text>
<text x="1440.3" y="762.5">4</text>
<text x="1440.3" y="794.5">4</text>
<text x="1438.6" y="826.3">2</text>
<text x="1435.9" y="852.2">2</text>
<text x="1431.9" y="878.6">4</text>
<text x="1425.6" y="910.1">4</text>
<text x="1417.5" y="941.2">2</text>
<text x="1409.6" y="966.6">2</text>
<text x="1400.6" y="991.3">4</text>
<text x="1388.3" y="1020.7">4</text>
<text x="1374.5" y="1049.3">2</text>
<text x="1361.8" y="1072.5">2</text>
<text x="1347.7" y="1095.9">4</text>
<text x="1329.5" y="1123">4</text>
<text x="1310" y="1148.8">2</text>
<text x="1292" y="1170.3">2</text>
<text x="1273.5" y="1190.6">1</text>
<text x="1251.2" y="1212.8">1</text>
<text x="1227.1" y="1234.4">1</text>
<text x="1205.6" y="1252">1</text>
<text x="1183.7" y="1268.2">2</text>
<text x="1156.8" y="1286.3">2</text>
<text x="1128.6" y="1303.3">2</text>
<text x="1104.2" y="1316.5">2</text>
<text x="1079.7" y="1328.3">4</text>
<text x="1050" y="1341.1">4</text>
<text x="1018.9" y="1352.6">2</text>
<text x="991.8" y="1361.2">2</text>
<text x="965.6" y="1368.4">4</text>
<text x="933.3" y="1375.6">4</text>
<text x="900.2" y="1381.2">2</text>
<text x="872.2" y="1384.6">2</text>
<text x="844.8" y="1386.8">4</text>
<text x="811.5" y="1388">4</text>
<text x="778.5" y="1387.4">2</text>
<text x="751.1" y="1385.7">2</text>
<text x="723.3" y="1382.8">4</text>
<text x="690.6" y="1377.9">4</text>
<text x="658" y="1371.2">2</text>
<text x="631" y="1364.4">2</text>
<text x="602.7" y="1355.9">1</text>
<text x="571.2" y="1344.8">1</text>
<text x="542.2" y="1332.9">1</text>
<text x="517.3" y="1321.4">1</text>
<text x="493.3" y="1309">2</text>
<text x="465.1" y="1292.7">2</text>
<text x="437.4" y="1274.8">1</text>
<text x="415" y="1258.8">1</text>
<text x="392.3" y="1240.9">1</text>
<text x="368.5" y="1220.3">1</text>
<text x="346.2" y="1198.8">1</text>
<text x="326.6" y="1178.2">1</text>
<text x="308.7" y="1157.5">2</text>
<text x="289.5" y="1133">2</text>
<text x="271.2" y="1107">1</text>
<text x="256.7" y="1084.3">1</text>
<text x="243.1" y="1060.5">2</text>
<text x="228.5" y="1031.8">2</text>
<text x="215.4" y="1002.3">1</text>
<text x="205.5" y="976.4">1</text>
<text x="197" y="950.8">1</text>
<text x="188.7" y="921">1</text>
<text x="181.8" y="890">1</text>
<text x="177.3" y="863.5">1</text>
<text x="174.1" y="837.1">4</text>
<text x="171.7" y="805.3">4</text>
<text x="171.2" y="773.3">4</text>
<text x="172" y="746.7">4</text>
<text x="174.1" y="720.3">1</text>
<text x="178.1" y="688.6">1</text>
<text x="183.9" y="657.2">1</text>
<text x="190" y="631.2">1</text>
<text x="197.4" y="605.3">4</text>
<text x="207.6" y="575.2">4</text>
<text x="219.5" y="545.5">4</text>
<text x="230.7" y="521">4</text>
<text x="243.1" y="496.9">1</text>
<text x="259.4" y="468.7">1</text>
<text x="277.1" y="441.7">3</text>
<text x="292.9" y="419.9">3</text>
<text x="309.8" y="398.6">4</text>
<text x="331.2" y="374.2">4</text>
<text x="354" y="350.8">1</text>
<text x="374" y="332.2">1</text>
<text x="394.6" y="314.6">4</text>
<text x="420.2" y="294.8">4</text>
<text x="447.3" y="275.9">4</text>
<text x="470.8" y="261.2">4</text>
<text x="494.6" y="247.7">4</text>
<text x="524" y="232.8">4</text>
<text x="554.1" y="219.4">4</text>
<text x="579.8" y="209.3">4</text>
<text x="606" y="200.4">4</text>
<text x="637.7" y="191.2">4</text>
<text x="670" y="183.5">4</text>
<text x="697.1" y="178.4">4</text>
<text x="724.5" y="174.4">4</text>
<text x="757.9" y="171.1">4</text>
<text x="789.6" y="169.6">2</text>
<text x="814.6" y="144">2</text>
<text x="847.6" y="145.2">2</text>
<text x="880.9" y="148">1</text>
<text x="909.7" y="151.8">1</text>
<text x="939" y="156.9">3</text>
<text x="972.9" y="164.5">3</text>
<text x="1006.3" y="173.8">2</text>
<text x="1032.7" y="182.4">2</text>
<text x="1059.6" y="192.5">4</text>
<text x="1090.9" y="205.9">4</text>
<text x="1120.5" y="220.4">2</text>
<text x="1146.6" y="234.6">2</text>
<text x="1172" y="250.1">4</text>
<text x="1200.3" y="269.2">4</text>
<text x="1227.5" y="289.7">2</text>
<text x="1248.5" y="307.1">2</text>
<text x="1269" y="325.6">4</text>
<text x="1293.7" y="350.1">4</text>
<text x="1315.8" y="374.6">2</text>
<text x="1333.2" y="395.7">2</text>
<text x="1350.9" y="419.2">4</text>
<text x="1370.2" y="447.9">4</text>
<text x="1387" y="475.8">2</text>
<text x="1400.3" y="500.7">2</text>
<text x="1412.8" y="526.8">2</text>
<text x="1425.4" y="557">2</text>
<text x="1436.7" y="588.4">1</text>
<text x="1444.7" y="615">1</text>
<text x="1451.4" y="641.5">3</text>
<text x="1458.1" y="674.2">3</text>
<text x="1462.9" y="707.3">2</text>
<text x="1465.5" y="734.4">2</text>
<text x="1466.8" y="761.8">4</text>
<text x="1466.9" y="795.2">4</text>
<text x="1465.1" y="828.3">2</text>
<text x="1462.3" y="855.3">2</text>
<text x="1458.1" y="882.7">4</text>
<text x="1451.5" y="915.6">4</text>
<text x="1443.1" y="948">2</text>
<text x="1434.8" y="974.5">2</text>
<text x="1425.5" y="1000.2">4</text>
<text x="1412.7" y="1030.8">4</text>
<text x="1398.3" y="1060.6">2</text>
<text x="1385.1" y="1084.8">2</text>
<text x="1370.4" y="1109.1">4</text>
<text x="1351.4" y="1137.4">4</text>
<text x="1331.1" y="1164.3">2</text>
<text x="1312.4" y="1186.7">2</text>
<text x="1293.1" y="1207.8">4</text>
<text x="1269.8" y="1231">4</text>
<text x="1244.8" y="1253.5">2</text>
<text x="1222.3" y="1271.8">2</text>
<text x="1199.5" y="1288.7">4</text>
<text x="1171.5" y="1307.6">4</text>
<text x="1142.1" y="1325.3">2</text>
<text x="1116.7" y="1339">2</text>
<text x="1091.2" y="1351.3">4</text>
<text x="1060.2" y="1364.6">4</text>
<text x="1027.9" y="1376.6">2</text>
<text x="999.6" y="1385.6">2</text>
<text x="972.3" y="1393">4</text>
<text x="938.7" y="1400.5">4</text>
<text x="904.2" y="1406.4">2</text>
<text x="875" y="1410">2</text>
<text x="846.4" y="1412.3">4</text>
<text x="811.8" y="1413.5">4</text>
<text x="777.3" y="1412.9">2</text>
<text x="748.8" y="1411.1">2</text>
<text x="719.8" y="1408.1">4</text>
<text x="685.7" y="1402.9">4</text>
<text x="651.9" y="1396">2</text>
<text x="623.7" y="1388.9">2</text>
<text x="594.2" y="1380.1">1</text>
<text x="561.4" y="1368.5">1</text>
<text x="531.2" y="1356.1">1</text>
<text x="505.3" y="1344.1">1</text>
<text x="480.2" y="1331.2">1</text>
<text x="450.8" y="1314.2">1</text>
<text x="421.9" y="1295.6">1</text>
<text x="398.6" y="1278.8">1</text>
<text x="375" y="1260.2">1</text>
<text x="350.2" y="1238.7">1</text>
<text x="326.9" y="1216.4">1</text>
<text x="306.6" y="1194.9">1</text>
<text x="287.9" y="1173.4">1</text>
<text x="267.9" y="1147.8">1</text>
<text x="248.8" y="1120.8">1</text>
<text x="233.8" y="1097">1</text>
<text x="219.6" y="1072.3">1</text>
<text x="204.4" y="1042.4">1</text>
<text x="190.7" y="1011.7">1</text>
<text x="180.3" y="984.6">1</text>
<text x="171.5" y="958">3</text>
<text x="162.9" y="926.9">3</text>
<text x="155.7" y="894.6">3</text>
<text x="151" y="867.1">3</text>
<text x="147.6" y="839.5">3</text>
<text x="145.2" y="806.4">3</text>
<text x="144.6" y="773.1">3</text>
<text x="145.5" y="745.4">3</text>
<text x="147.6" y="717.9">3</text>
<text x="151.8" y="684.9">3</text>
<text x="157.9" y="652.1">3</text>
<text x="164.3" y="625">3</text>
<text x="171.9" y="598.1">3</text>
<text x="182.6" y="566.7">3</text>
<text x="194.9" y="535.8">3</text>
<text x="206.6" y="510.3">3</text>
<text x="219.5" y="485.1">3</text>
<text x="236.6" y="455.7">3</text>
<text x="254.9" y="427.6">3</text>
<text x="271.4" y="404.8">3</text>
<text x="289.1" y="382.6">3</text>
<text x="311.3" y="357.3">3</text>
<text x="335.1" y="332.9">1</text>
<text x="355.9" y="313.5">2</text>
<text x="377.4" y="295.2">1</text>
<text x="404" y="274.5">2</text>
<text x="432.3" y="254.9">4</text>
<text x="456.8" y="239.5">4</text>
<text x="481.6" y="225.4">4</text>
<text x="512.2" y="209.9">3</text>
<text x="543.5" y="196">4</text>
<text x="570.4" y="185.5">4</text>
<text x="597.6" y="176.2">3</text>
<text x="630.6" y="166.6">3</text>
<text x="664.3" y="158.6">4</text>
<text x="692.5" y="153.3">4</text>
<text x="721.1" y="149.1">3</text>
<text x="755.9" y="145.7">3</text>
<text x="788.9" y="144.1">3</text>
<text x="815" y="119.8">3</text>
<text x="849.2" y="121">2</text>
<text x="883.7" y="124">3</text>
<text x="913.6" y="127.9">2</text>
<text x="944.1" y="133.2">3</text>
<text x="979.3" y="141.1">2</text>
<text x="1013.9" y="150.7">3</text>
<text x="1041.3" y="159.7">2</text>
<text x="1069.2" y="170.2">3</text>
<text x="1101.7" y="184.1">2</text>
<text x="1132.5" y="199.1">3</text>
<text x="1159.5" y="213.9">2</text>
<text x="1185.9" y="229.9">3</text>
<text x="1215.3" y="249.8">2</text>
<text x="1243.5" y="271">3</text>
<text x="1265.3" y="289.1">2</text>
<text x="1286.7" y="308.4">3</text>
<text x="1312.2" y="333.8">2</text>
<text x="1335.3" y="359.3">3</text>
<text x="1353.3" y="381.1">2</text>
<text x="1371.6" y="405.5">3</text>
<text x="1391.7" y="435.3">2</text>
<text x="1409.1" y="464.3">3</text>
<text x="1423" y="490.1">2</text>
<text x="1435.9" y="517.2">4</text>
<text x="1449" y="548.6">3</text>
<text x="1460.7" y="581.1">4</text>
<text x="1469" y="608.7">2</text>
<text x="1476" y="636.2">4</text>
<text x="1482.9" y="670.3">3</text>
<text x="1487.9" y="704.5">4</text>
<text x="1490.6" y="732.7">2</text>
<text x="1492" y="761.1">4</text>
<text x="1492" y="795.8">3</text>
<text x="1490.2" y="830.2">4</text>
<text x="1487.3" y="858.2">2</text>
<text x="1483" y="886.7">4</text>
<text x="1476.1" y="920.9">3</text>
<text x="1467.4" y="954.5">4</text>
<text x="1458.8" y="981.9">2</text>
<text x="1449.1" y="1008.7">4</text>
<text x="1435.8" y="1040.4">3</text>
<text x="1420.9" y="1071.3">4</text>
<text x="1407.2" y="1096.5">2</text>
<text x="1391.9" y="1121.7">4</text>
<text x="1372.2" y="1151">3</text>
<text x="1351.1" y="1179">4</text>
<text x="1331.7" y="1202.3">2</text>
<text x="1311.6" y="1224.2">4</text>
<text x="1287.5" y="1248.2">3</text>
<text x="1261.5" y="1271.5">4</text>
<text x="1238.1" y="1290.6">2</text>
<text x="1214.5" y="1308.1">4</text>
<text x="1185.4" y="1327.7">3</text>
<text x="1154.9" y="1346.1">4</text>
<text x="1128.5" y="1360.3">2</text>
<text x="1102.1" y="1373.1">4</text>
<text x="1069.9" y="1386.9">3</text>
<text x="1036.3" y="1399.4">4</text>
<text x="1007" y="1408.7">2</text>
<text x="978.6" y="1416.4">4</text>
<text x="943.7" y="1424.2">3</text>
<text x="907.9" y="1430.3">4</text>
<text x="877.6" y="1434">2</text>
<text x="848" y="1436.4">4</text>
<text x="812" y="1437.6">3</text>
<text x="776.3" y="1437">4</text>
<text x="746.7" y="1435.2">2</text>
<text x="716.5" y="1432.1">4</text>
<text x="681.2" y="1426.7">3</text>
<text x="646" y="1419.5">4</text>
<text x="616.7" y="1412.2">2</text>
<text x="586.1" y="1403">1</text>
<text x="552.1" y="1391">1</text>
<text x="520.7" y="1378.1">1</text>
<text x="493.8" y="1365.7">1</text>
<text x="467.8" y="1352.2">1</text>
<text x="437.3" y="1334.6">1</text>
<text x="407.3" y="1315.2">1</text>
<text x="383.1" y="1297.9">1</text>
<text x="358.6" y="1278.6">1</text>
<text x="332.8" y="1256.3">1</text>
<text x="308.7" y="1233.1">1</text>
<text x="287.6" y="1210.8">1</text>
<text x="268.2" y="1188.4">1</text>
<text x="247.4" y="1161.9">1</text>
<text x="227.6" y="1133.8">1</text>
<text x="212" y="1109.2">1</text>
<text x="197.2" y="1083.5">1</text>
<text x="181.5" y="1052.5">1</text>
<text x="167.3" y="1020.5">1</text>
<text x="156.5" y="992.5">1</text>
<text x="147.4" y="964.9">2</text>
<text x="138.4" y="932.6">2</text>
<text x="131" y="899.1">2</text>
<text x="126.1" y="870.5">2</text>
<text x="122.6" y="841.8">2</text>
<text x="120.1" y="807.4">2</text>
<text x="119.4" y="772.9">2</text>
<text x="120.3" y="744.1">2</text>
<text x="122.6" y="715.6">2</text>
<text x="126.9" y="681.3">2</text>
<text x="133.2" y="647.3">2</text>
<text x="139.8" y="619.2">2</text>
<text x="147.8" y="591.2">2</text>
<text x="158.8" y="558.6">2</text>
<text x="171.7" y="526.5">2</text>
<text x="183.8" y="500">2</text>
<text x="197.2" y="473.9">2</text>
<text x="214.9" y="443.4">2</text>
<text x="234" y="414.2">2</text>
<text x="251.1" y="390.6">2</text>
<text x="269.4" y="367.6">2</text>
<text x="292.5" y="341.2">2</text>
<text x="317.2" y="315.9">1</text>
<text x="338.7" y="295.8">1</text>
<text x="361" y="276.8">1</text>
<text x="388.7" y="255.3">1</text>
<text x="418.1" y="234.9">4</text>
<text x="443.5" y="219">3</text>
<text x="469.2" y="204.4">4</text>
<text x="501" y="188.3">3</text>
<text x="533.5" y="173.8">4</text>
<text x="561.4" y="162.9">3</text>
<text x="589.7" y="153.2">4</text>
<text x="624" y="143.3">3</text>
<text x="659" y="135">4</text>
<text x="688.2" y="129.5">3</text>
<text x="717.8" y="125.1">4</text>
<text x="754" y="121.6">2</text>
<text x="788.2" y="119.9">3</text>
<text x="815.5" y="94.9">4</text>
<text x="850.9" y="96.1">3</text>
<text x="886.7" y="99.2">3</text>
<text x="917.7" y="103.2">2</text>
<text x="949.3" y="108.8">3</text>
<text x="985.8" y="117">3</text>
<text x="1021.8" y="126.9">3</text>
<text x="1050.3" y="136.3">1</text>
<text x="1079.2" y="147.1">3</text>
<text x="1112.9" y="161.6">3</text>
<text x="1144.8" y="177.2">2</text>
<text x="1172.9" y="192.5">2</text>
<text x="1200.3" y="209.2">3</text>
<text x="1230.8" y="229.8">3</text>
<text x="1260.1" y="251.8">2</text>
<text x="1282.7" y="270.6">2</text>
<text x="1304.9" y="290.6">3</text>
<text x="1331.4" y="317">3</text>
<text x="1355.3" y="343.4">1</text>
<text x="1374" y="366.1">1</text>
<text x="1393" y="391.4">3</text>
<text x="1413.9" y="422.3">3</text>
<text x="1431.9" y="452.3">1</text>
<text x="1446.3" y="479.2">1</text>
<text x="1459.8" y="507.3">4</text>
<text x="1473.4" y="539.8">3</text>
<text x="1485.5" y="573.7">3</text>
<text x="1494.2" y="602.3">2</text>
<text x="1501.4" y="630.8">3</text>
<text x="1508.5" y="666.2">3</text>
<text x="1513.7" y="701.7">3</text>
<text x="1516.5" y="731">1</text>
<text x="1518" y="760.5">3</text>
<text x="1518" y="796.5">3</text>
<text x="1516.1" y="832.2">2</text>
<text x="1513.1" y="861.2">1</text>
<text x="1508.6" y="890.8">3</text>
<text x="1501.5" y="926.2">3</text>
<text x="1492.4" y="961.1">2</text>
<text x="1483.5" y="989.6">1</text>
<text x="1473.5" y="1017.4">3</text>
<text x="1459.7" y="1050.3">3</text>
<text x="1444.2" y="1082.4">1</text>
<text x="1429.9" y="1108.5">1</text>
<text x="1414.1" y="1134.7">3</text>
<text x="1393.6" y="1165.1">3</text>
<text x="1371.7" y="1194.2">1</text>
<text x="1351.6" y="1218.3">1</text>
<text x="1330.8" y="1241">4</text>
<text x="1305.7" y="1266">4</text>
<text x="1278.7" y="1290.2">3</text>
<text x="1254.5" y="1309.9">2</text>
<text x="1230" y="1328.2">4</text>
<text x="1199.8" y="1348.5">3</text>
<text x="1168.2" y="1367.6">3</text>
<text x="1140.7" y="1382.3">2</text>
<text x="1113.3" y="1395.7">3</text>
<text x="1079.9" y="1410">3</text>
<text x="1045.1" y="1422.9">2</text>
<text x="1014.6" y="1432.6">1</text>
<text x="985.2" y="1440.6">3</text>
<text x="949" y="1448.7">3</text>
<text x="911.8" y="1455">2</text>
<text x="880.4" y="1458.9">1</text>
<text x="849.6" y="1461.3">3</text>
<text x="812.2" y="1462.6">3</text>
<text x="775.1" y="1462">2</text>
<text x="744.4" y="1460.1">1</text>
<text x="713.2" y="1456.8">3</text>
<text x="676.4" y="1451.2">3</text>
<text x="639.9" y="1443.8">2</text>
<text x="609.6" y="1436.1">1</text>
<text x="577.8" y="1426.6">4</text>
<text x="542.5" y="1414.2">3</text>
<text x="509.9" y="1400.8">2</text>
<text x="482" y="1387.9">1</text>
<text x="455" y="1373.9">4</text>
<text x="423.4" y="1355.7">3</text>
<text x="392.2" y="1335.5">2</text>
<text x="367.1" y="1317.6">1</text>
<text x="341.6" y="1297.5">3</text>
<text x="314.9" y="1274.3">2</text>
<text x="289.9" y="1250.3">2</text>
<text x="268" y="1227.2">1</text>
<text x="247.9" y="1203.9">3</text>
<text x="226.2" y="1176.4">2</text>
<text x="205.7" y="1147.3">1</text>
<text x="189.5" y="1121.7">1</text>
<text x="174.2" y="1095">2</text>
<text x="157.8" y="1062.8">2</text>
<text x="143.1" y="1029.7">2</text>
<text x="131.9" y="1000.6">1</text>
<text x="122.4" y="971.9">1</text>
<text x="113.1" y="938.4">1</text>
<text x="105.4" y="903.6">2</text>
<text x="100.4" y="873.9">2</text>
<text x="96.7" y="844.2">1</text>
<text x="94.1" y="808.5">1</text>
<text x="93.4" y="772.7">2</text>
<text x="94.4" y="742.8">2</text>
<text x="96.7" y="713.2">1</text>
<text x="101.2" y="677.6">1</text>
<text x="107.7" y="642.3">2</text>
<text x="114.6" y="613.1">2</text>
<text x="122.9" y="584.1">1</text>
<text x="134.3" y="550.3">1</text>
<text x="147.6" y="517">2</text>
<text x="160.2" y="489.5">2</text>
<text x="174.2" y="462.4">1</text>
<text x="192.5" y="430.7">1</text>
<text x="212.3" y="400.4">1</text>
<text x="230.1" y="375.9">1</text>
<text x="249.1" y="352">1</text>
<text x="273" y="324.7">1</text>
<text x="298.7" y="298.4">1</text>
<text x="321.1" y="277.5">2</text>
<text x="344.2" y="257.8">1</text>
<text x="372.9" y="235.5">2</text>
<text x="403.4" y="214.3">4</text>
<text x="429.8" y="197.8">3</text>
<text x="456.5" y="182.6">3</text>
<text x="489.5" y="165.9">2</text>
<text x="523.2" y="150.9">4</text>
<text x="552.2" y="139.6">3</text>
<text x="581.5" y="129.6">3</text>
<text x="617.1" y="119.2">2</text>
<text x="653.4" y="110.6">3</text>
<text x="683.8" y="104.9">3</text>
<text x="714.5" y="100.4">3</text>
<text x="752" y="96.7">2</text>
<text x="787.6" y="95">4</text>
<text x="816" y="68.4">4</text>
<text x="852.6" y="69.7">3</text>
<text x="889.8" y="72.9">4</text>
<text x="922" y="77.1">3</text>
<text x="954.9" y="82.9">4</text>
<text x="992.8" y="91.4">3</text>
<text x="1030.1" y="101.7">3</text>
<text x="1059.7" y="111.4">2</text>
<text x="1089.8" y="122.7">4</text>
<text x="1124.8" y="137.7">3</text>
<text x="1158" y="153.9">3</text>
<text x="1187.1" y="169.9">2</text>
<text x="1215.5" y="187.1">4</text>
<text x="1247.2" y="208.5">3</text>
<text x="1277.7" y="231.5">3</text>
<text x="1301.2" y="250.9">2</text>
<text x="1324.2" y="271.7">3</text>
<text x="1351.7" y="299.1">2</text>
<text x="1376.6" y="326.5">3</text>
<text x="1396" y="350.1">2</text>
<text x="1415.7" y="376.4">3</text>
<text x="1437.4" y="408.5">2</text>
<text x="1456.1" y="439.7">3</text>
<text x="1471.1" y="467.6">2</text>
<text x="1485.1" y="496.8">4</text>
<text x="1499.2" y="530.6">3</text>
<text x="1511.8" y="565.7">4</text>
<text x="1520.8" y="595.5">3</text>
<text x="1528.3" y="625.1">4</text>
<text x="1535.7" y="661.8">3</text>
<text x="1541.1" y="698.8">3</text>
<text x="1544" y="729.1">2</text>
<text x="1545.5" y="759.8">4</text>
<text x="1545.6" y="797.2">3</text>
<text x="1543.5" y="834.2">3</text>
<text x="1540.4" y="864.4">2</text>
<text x="1535.8" y="895.1">4</text>
<text x="1528.4" y="932">3</text>
<text x="1519" y="968.2">3</text>
<text x="1509.7" y="997.8">2</text>
<text x="1499.3" y="1026.6">3</text>
<text x="1484.9" y="1060.8">2</text>
<text x="1468.8" y="1094.2">3</text>
<text x="1454.1" y="1121.3">2</text>
<text x="1437.6" y="1148.5">3</text>
<text x="1416.4" y="1180.1">2</text>
<text x="1393.6" y="1210.2">3</text>
<text x="1372.7" y="1235.3">2</text>
<text x="1351.1" y="1258.9">4</text>
<text x="1325" y="1284.8">3</text>
<text x="1297" y="1310">4</text>
<text x="1271.9" y="1330.5">3</text>
<text x="1246.4" y="1349.4">4</text>
<text x="1215.1" y="1370.5">3</text>
<text x="1182.2" y="1390.3">4</text>
<text x="1153.7" y="1405.7">3</text>
<text x="1125.2" y="1419.5">4</text>
<text x="1090.5" y="1434.4">3</text>
<text x="1054.3" y="1447.8">4</text>
<text x="1022.7" y="1457.9">3</text>
<text x="992.1" y="1466.2">4</text>
<text x="954.5" y="1474.6">3</text>
<text x="915.9" y="1481.2">4</text>
<text x="883.2" y="1485.2">3</text>
<text x="851.3" y="1487.7">4</text>
<text x="812.5" y="1489">3</text>
<text x="773.9" y="1488.4">4</text>
<text x="742" y="1486.4">3</text>
<text x="709.6" y="1483">4</text>
<text x="671.4" y="1477.2">3</text>
<text x="633.5" y="1469.5">4</text>
<text x="602" y="1461.6">3</text>
<text x="569" y="1451.7">1</text>
<text x="532.3" y="1438.7">1</text>
<text x="498.5" y="1424.9">1</text>
<text x="469.5" y="1411.4">1</text>
<text x="441.5" y="1397">1</text>
<text x="408.6" y="1378">1</text>
<text x="376.2" y="1357.1">1</text>
<text x="350.2" y="1338.4">1</text>
<text x="323.7" y="1317.6">1</text>
<text x="296" y="1293.5">1</text>
<text x="269.9" y="1268.5">1</text>
<text x="247.2" y="1244.5">1</text>
<text x="226.3" y="1220.4">1</text>
<text x="203.8" y="1191.8">1</text>
<text x="182.5" y="1161.5">1</text>
<text x="165.6" y="1134.9">1</text>
<text x="149.8" y="1107.3">1</text>
<text x="132.8" y="1073.8">1</text>
<text x="117.5" y="1039.4">1</text>
<text x="105.9" y="1009.1">1</text>
<text x="96" y="979.4">3</text>
<text x="86.3" y="944.6">2</text>
<text x="78.3" y="908.4">3</text>
<text x="73.1" y="877.6">2</text>
<text x="69.3" y="846.8">3</text>
<text x="66.6" y="809.7">2</text>
<text x="65.9" y="772.4">3</text>
<text x="66.9" y="741.4">2</text>
<text x="69.3" y="710.7">3</text>
<text x="74" y="673.7">2</text>
<text x="80.7" y="637">3</text>
<text x="87.9" y="606.7">2</text>
<text x="96.4" y="576.6">3</text>
<text x="108.3" y="541.4">2</text>
<text x="122.2" y="506.8">3</text>
<text x="135.3" y="478.3">2</text>
<text x="149.7" y="450.2">3</text>
<text x="168.8" y="417.3">2</text>
<text x="189.4" y="385.8">3</text>
<text x="207.8" y="360.3">2</text>
<text x="227.5" y="335.5">3</text>
<text x="252.4" y="307.1">2</text>
<text x="279" y="279.8">1</text>
<text x="302.3" y="258.1">1</text>
<text x="326.3" y="237.6">1</text>
<text x="356.2" y="214.5">1</text>
<text x="387.8" y="192.5">4</text>
<text x="415.2" y="175.3">3</text>
<text x="443" y="159.6">4</text>
<text x="477.2" y="142.2">2</text>
<text x="512.3" y="126.6">4</text>
<text x="542.3" y="114.9">2</text>
<text x="572.8" y="104.5">4</text>
<text x="609.8" y="93.7">2</text>
<text x="647.5" y="84.8">4</text>
<text x="679.1" y="78.8">2</text>
<text x="711" y="74.2">4</text>
<text x="750" y="70.3">2</text>
<text x="786.9" y="68.5">4</text>
<text x="816.7" y="223.2">S</text>
<text x="842.9" y="224.4">N</text>
<text x="871.9" y="227.1">S</text>
<text x="897.1" y="230.6">N</text>
<text x="922.8" y="235.2">S</text>
<text x="952.4" y="242">N</text>
<text x="981.5" y="250.2">S</text>
<text x="1004.6" y="257.9">N</text>
<text x="1028" y="266.8">S</text>
<text x="1055.3" y="278.6">N</text>
<text x="1081.1" y="291.3">S</text>
<text x="1103.9" y="303.9">N</text>
<text x="1126" y="317.4">S</text>
<text x="1150.7" y="334.1">N</text>
<text x="1174.5" y="352">S</text>
<text x="1192.8" y="367.3">N</text>
<text x="1210.7" y="383.5">S</text>
<text x="1232.3" y="404.9">N</text>
<text x="1251.6" y="426.2">S</text>
<text x="1266.8" y="444.6">N</text>
<text x="1282.3" y="465.1">S</text>
<text x="1299.2" y="490.1">N</text>
<text x="1313.9" y="514.5">S</text>
<text x="1325.7" y="536.2">N</text>
<text x="1336.7" y="559">S</text>
<text x="1347.8" y="585.3">N</text>
<text x="1357.8" y="612.7">S</text>
<text x="1364.9" y="635.9">N</text>
<text x="1370.9" y="659.1">S</text>
<text x="1376.9" y="687.7">N</text>
<text x="1381.3" y="716.6">S</text>
<text x="1383.7" y="740.3">N</text>
<text x="1385.1" y="764.3">S</text>
<text x="1385.3" y="793.5">N</text>
<text x="1384" y="822.6">S</text>
<text x="1381.7" y="846.2">N</text>
<text x="1378.3" y="870.3">S</text>
<text x="1372.7" y="899.3">N</text>
<text x="1365.7" y="927.7">S</text>
<text x="1358.6" y="951">N</text>
<text x="1350.6" y="973.7">S</text>
<text x="1339.6" y="1000.7">N</text>
<text x="1327.2" y="1027">S</text>
<text x="1315.8" y="1048.4">N</text>
<text x="1303.1" y="1069.9">S</text>
<text x="1286.6" y="1094.9">N</text>
<text x="1269" y="1118.8">S</text>
<text x="1252.7" y="1138.7">N</text>
<text x="1235.9" y="1157.5">S</text>
<text x="1215.6" y="1178.1">N</text>
<text x="1193.7" y="1198.2">S</text>
<text x="1174" y="1214.5">N</text>
<text x="1154.1" y="1229.7">S</text>
<text x="1129.5" y="1246.6">N</text>
<text x="1103.7" y="1262.5">S</text>
<text x="1081.3" y="1274.8">N</text>
<text x="1058.8" y="1286">S</text>
<text x="1031.5" y="1298">N</text>
<text x="1003" y="1308.9">S</text>
<text x="978" y="1317">N</text>
<text x="953.8" y="1323.8">S</text>
<text x="924.1" y="1330.7">N</text>
<text x="893.5" y="1336.2">S</text>
<text x="867.7" y="1339.6">N</text>
<text x="842.3" y="1341.8">S</text>
<text x="811.5" y="1343">N</text>
<text x="780.9" y="1342.7">S</text>
<text x="755.6" y="1341.3">N</text>
<text x="729.8" y="1338.8">S</text>
<text x="699.4" y="1334.4">N</text>
<text x="669.3" y="1328.4">S</text>
<text x="644.1" y="1322.2">N</text>
<text x="617.8" y="1314.4">S</text>
<text x="588.6" y="1304.2">N</text>
<text x="561.7" y="1293.3">S</text>
<text x="538.6" y="1282.7">N</text>
<text x="516.2" y="1271.2">S</text>
<text x="490" y="1256.2">N</text>
<text x="464.2" y="1239.6">S</text>
<text x="443.4" y="1224.7">N</text>
<text x="422.3" y="1208.2">S</text>
<text x="400.2" y="1189">N</text>
<text x="379.5" y="1169.1">S</text>
<text x="361.4" y="1150">N</text>
<text x="344.8" y="1130.8">S</text>
<text x="326.9" y="1108">N</text>
<text x="310" y="1083.9">S</text>
<text x="296.7" y="1062.7">N</text>
<text x="284.1" y="1040.6">S</text>
<text x="270.6" y="1014">N</text>
<text x="258.6" y="986.5">S</text>
<text x="249.5" y="962.4">N</text>
<text x="241.7" y="938.7">S</text>
<text x="234.2" y="911">N</text>
<text x="228" y="882.2">S</text>
<text x="223.9" y="857.7">N</text>
<text x="221.1" y="833.2">S</text>
<text x="219.1" y="803.7">N</text>
<text x="218.8" y="774.1">S</text>
<text x="219.8" y="749.5">N</text>
<text x="221.9" y="725.1">S</text>
<text x="225.9" y="695.8">N</text>
<text x="231.5" y="666.8">S</text>
<text x="237.3" y="642.8">N</text>
<text x="244.3" y="619">S</text>
<text x="254" y="591.2">N</text>
<text x="265.2" y="564">S</text>
<text x="275.8" y="541.5">N</text>
<text x="287.5" y="519.3">S</text>
<text x="302.8" y="493.5">N</text>
<text x="319.3" y="468.7">S</text>
<text x="334.1" y="448.8">N</text>
<text x="349.8" y="429.3">S</text>
<text x="369.7" y="407.1">N</text>
<text x="390.9" y="385.8">NE</text>
<text x="409.5" y="368.9">NE</text>
<text x="428.6" y="352.9">NE</text>
<text x="452.3" y="334.9">NE</text>
<text x="477.3" y="317.9">S</text>
<text x="499" y="304.5">N</text>
<text x="521" y="292.4">S</text>
<text x="548" y="279">N</text>
<text x="575.7" y="266.9">S</text>
<text x="599.4" y="258">N</text>
<text x="623.4" y="250">S</text>
<text x="652.5" y="241.8">N</text>
<text x="682.1" y="235">S</text>
<text x="706.9" y="230.6">N</text>
<text x="731.9" y="227.1">S</text>
<text x="762.5" y="224.4">N</text>
<text x="820.5" y="631.4">Ea</text>
<text x="848.6" y="637.4">Em</text>
<text x="902.7" y="672.5">P</text>
<text x="955.1" y="729.8">Ea</text>
<text x="961.6" y="757.8">Em</text>
<text x="943.1" y="824.1">P</text>
<text x="912.3" y="888.4">Ea</text>
<text x="890.9" y="905.1">Em</text>
<text x="819.2" y="916.9">P</text>
<text x="733.5" y="906.4">Ea</text>
<text x="692.1" y="869.1">Em</text>
<text x="672.8" y="837">P</text>
<text x="663.4" y="794.1">Ea</text>
<text x="662.6" y="741.4">Em</text>
<text x="680.8" y="697.7">P</text>
<text x="697.7" y="662.3">NE</text>
<text x="726.9" y="646.9">Ea</text>
<text x="755.2" y="635.8">Em</text>
<text x="782.5" y="630.2">P</text>
<text x="812.1" y="544.4" text-anchor="start">No</text>
<text x="812.1" y="566.2" text-anchor="start">esp.</text>
<text x="852.1" y="553.4" text-anchor="start">No</text>
<text x="852.1" y="575.2" text-anchor="start">esp.</text>
<text x="973" y="947.3" text-anchor="start">No</text>
<text x="973" y="969.1" text-anchor="start">esp.</text>
<text x="928.1" y="971.7" text-anchor="start">No</text>
<text x="928.1" y="993.5" text-anchor="start">esp.</text>
<text x="633.2" y="587.6" text-anchor="start">No</text>
<text x="633.2" y="609.4" text-anchor="start">esp.</text>
<text x="676" y="567.5" text-anchor="start">No</text>
<text x="676" y="589.3" text-anchor="start">esp.</text>
<text x="715.6" y="552.6" text-anchor="start">No</text>
<text x="715.6" y="574.4" text-anchor="start">esp.</text>
<text x="757.6" y="540.6" text-anchor="start">No</text>
<text x="757.6" y="562.4" text-anchor="start">esp.</text>
<text x="933.4" y="585.2">Micro</text>
<text x="1041.9" y="806.9">Micro</text>
<text x="871.9" y="1003.5">Micro</text>
<text x="974.4" y="626.6" text-anchor="start">Meso/</text>
<text x="974.4" y="648.4" text-anchor="start">macro</text>
<text x="987.8" y="879.2" text-anchor="start">Meso/</text>
<text x="987.8" y="901" text-anchor="start">macro</text>
<text x="753.6" y="993.5" text-anchor="start">Meso/</text>
<text x="753.6" y="1015.3" text-anchor="start">macro</text>
<text x="1037.3" y="705.4">No esp.</text>
<text x="1045.8" y="744">No esp.</text>
<text x="692.3" y="979.1">No esp.</text>
<text x="622" y="923.8">No esp.</text>
<text x="586.4" y="871.7">No esp.</text>
<text x="569" y="806.4">No esp.</text>
<text x="575.9" y="716.2">No esp.</text>
<text x="605.1" y="648.7">No esp.</text>
<text x="822.7" y="441.7" text-anchor="start">No</text>
<text x="822.7" y="463.5" text-anchor="start">esp.</text>
<text x="883.4" y="450.1" text-anchor="start">No</text>
<text x="883.4" y="471.9" text-anchor="start">esp.</text>
<text x="623.9" y="485.3" text-anchor="start">No</text>
<text x="623.9" y="507.1" text-anchor="start">esp.</text>
<text x="681.7" y="460.4" text-anchor="start">No</text>
<text x="681.7" y="482.2" text-anchor="start">esp.</text>
<text x="745.1" y="445" text-anchor="start">No</text>
<text x="745.1" y="466.8" text-anchor="start">esp.</text>
<text x="1136.4" y="668.7">No esp.</text>
<text x="1150.2" y="730.4">No esp.</text>
<text x="1049.9" y="1024">No esp.</text>
<text x="1001.1" y="1066.9">No esp.</text>
<text x="489.5" y="914.8">No esp.</text>
<text x="467.6" y="851.9">No esp.</text>
<text x="461.4" y="721.4">No esp.</text>
<text x="935.6" y="461.7" text-anchor="start">Pantano</text>
<text x="935.6" y="483.5" text-anchor="start">interm.</text>
<text x="995.3" y="495.6" text-anchor="start">Manglar</text>
<text x="995.3" y="517.4" text-anchor="start">interm.</text>
<text x="1051.5" y="532.9" text-anchor="start">Pant./</text>
<text x="1051.5" y="554.7" text-anchor="start">llan.</text>
<text x="1051.5" y="576.5" text-anchor="start">mar.</text>
<text x="1089" y="590.7" text-anchor="start">Mangl./</text>
<text x="1089" y="612.5" text-anchor="start">llan. mar.</text>
<text x="1128.2" y="782.8" text-anchor="start">Pantano</text>
<text x="1128.2" y="804.6" text-anchor="start">interm.</text>
<text x="1119" y="845.8" text-anchor="start">Manglar</text>
<text x="1119" y="867.6" text-anchor="start">interm.</text>
<text x="1098.9" y="908.7" text-anchor="start">Pant./</text>
<text x="1098.9" y="930.5" text-anchor="start">llan. mar.</text>
<text x="1074.3" y="969.9" text-anchor="start">Mangl./</text>
<text x="1074.3" y="991.7" text-anchor="start">llan. mar.</text>
<text x="913.6" y="1105.3" text-anchor="start">Pantano</text>
<text x="913.6" y="1127.1" text-anchor="start">interm.</text>
<text x="842" y="1118.1" text-anchor="start">Manglar</text>
<text x="842" y="1139.9" text-anchor="start">interm.</text>
<text x="781.1" y="1109.1" text-anchor="start">Pant./</text>
<text x="781.1" y="1130.9" text-anchor="start">llan.</text>
<text x="781.1" y="1152.7" text-anchor="start">mar.</text>
<text x="708.4" y="1100.9" text-anchor="start">Mangl./</text>
<text x="708.4" y="1122.7" text-anchor="start">llan.</text>
<text x="708.4" y="1144.5" text-anchor="start">mar.</text>
<text x="643.3" y="1082.9" text-anchor="start">Sin</text>
<text x="643.3" y="1104.7" text-anchor="start">veget.</text>
<text x="588" y="1053.4" text-anchor="start">Con</text>
<text x="588" y="1075.2" text-anchor="start">veget.</text>
<text x="531.8" y="1012.3" text-anchor="start">Sin</text>
<text x="531.8" y="1034.1" text-anchor="start">veget.</text>
<text x="492.2" y="961.4" text-anchor="start">Con</text>
<text x="492.2" y="983.2" text-anchor="start">veget.</text>
<text x="454.2" y="790.2">C</text>
<text x="469.4" y="659.7">C</text>
<text x="475.6" y="604">No</text>
<text x="493.5" y="571.6">P/M</text>
<text x="515.4" y="547.2">C</text>
<text x="548.3" y="524.1">NE</text>
<text x="573.8" y="505.6">C</text>
<text x="826.9" y="321.5">B/D</text>
<text x="869.3" y="325.1">Sup.</text>
<text x="914.7" y="333.1">B/D</text>
<text x="958.2" y="344.9">Sup.</text>
<text x="1000" y="360.6">B/D</text>
<text x="1041.4" y="380.6">Sup.</text>
<text x="1080.8" y="404.5">B/D</text>
<text x="1116.3" y="431">Sup.</text>
<text x="1149.5" y="461">B/D</text>
<text x="1179.7" y="494.1">Sup.</text>
<text x="1206.5" y="529.8">B/D</text>
<text x="1230" y="568.6">Sup.</text>
<text x="1248.9" y="608.3">B/D</text>
<text x="1263.8" y="649.3">Sup.</text>
<text x="1274.7" y="692.1">B/D</text>
<text x="1281.2" y="735.4">Sup.</text>
<text x="1283.3" y="779.1">B/D</text>
<text x="1281.2" y="822.7">Sup.</text>
<text x="1274.7" y="866">B/D</text>
<text x="1263.8" y="908.8">Sup.</text>
<text x="1248.8" y="950.1">B/D</text>
<text x="1229.9" y="989.6">Sup.</text>
<text x="1206.9" y="1027.7">B/D</text>
<text x="1179.6" y="1064.2">Sup.</text>
<text x="1149.5" y="1097.2">B/D</text>
<text x="1116.4" y="1127.1">Sup.</text>
<text x="1080.1" y="1154.1">B/D</text>
<text x="1041.4" y="1177.6">Sup.</text>
<text x="1000.8" y="1197.3">B/D</text>
<text x="957.9" y="1213.3">Sup.</text>
<text x="913.3" y="1225.4">B/D</text>
<text x="867.9" y="1233.2">Sup.</text>
<text x="821.9" y="1236.8">B/D</text>
<text x="776.3" y="1236.2">Sup.</text>
<text x="731" y="1231.4">B/D</text>
<text x="686.1" y="1222.3">Sup.</text>
<text x="642" y="1209.1">B/D</text>
<text x="599.7" y="1191.9">Sup.</text>
<text x="559.7" y="1171.2">B/D</text>
<text x="521.7" y="1146.7">Sup.</text>
<text x="486.9" y="1119.3">B/D</text>
<text x="454.3" y="1088.3">Sup.</text>
<text x="425" y="1054.4">B/D</text>
<text x="399.7" y="1018.7">Sup.</text>
<text x="377.6" y="980.1">B/D</text>
<text x="359.2" y="939">Sup.</text>
<text x="345.3" y="897.1">NP</text>
<text x="335.7" y="854.8">P</text>
<text x="330.3" y="811">NP</text>
<text x="329.3" y="767">P</text>
<text x="332.7" y="723.1">NP</text>
<text x="340.5" y="679.7">P</text>
<text x="352.6" y="637.4">NP</text>
<text x="368.8" y="596.3">P</text>
<text x="394.8" y="555.1">No esp.</text>
<text x="413.5" y="516.6">No esp.</text>
<text x="439.6" y="484.5">No esp.</text>
<text x="460.8" y="451.6">NP</text>
<text x="476.1" y="437.5">P</text>
<text x="490.8" y="423.9">NP</text>
<text x="508.2" y="405.4">P</text>
<text x="543.5" y="396.8">B/D</text>
<text x="583.2" y="374.2">Sup.</text>
<text x="624.7" y="355.6">B/D</text>
<text x="667.8" y="340.8">Sup.</text>
<text x="712" y="330.1">B/D</text>
<text x="757.5" y="323.5">Sup.</text>
<text x="818.6" y="717.3" text-anchor="start" font-size="15">Llanura</text>
<text x="818.6" y="735.8" text-anchor="start" font-size="15">sedim</text>
<text x="845.1" y="784.1" text-anchor="start" font-size="15">Barrera</text>
<text x="798.6" y="822.6" text-anchor="start" font-size="15">Delta/</text>
<text x="798.6" y="840.6" text-anchor="start" font-size="15">isla baja</text>
<text x="798.6" y="858.6" text-anchor="start" font-size="15">estuario</text>
<text x="737.1" y="809.1" text-anchor="start" font-size="15">Roca</text>
<text x="737.1" y="827.7" text-anchor="start" font-size="15">blanda</text>
<text x="737.1" y="846.3" text-anchor="start" font-size="15">talud</text>
<text x="712.4" y="753.3" text-anchor="start" font-size="15">Roca</text>
<text x="712.4" y="772.3" text-anchor="start" font-size="15">dura plana</text>
<text x="771.8" y="699.3" text-anchor="start" font-size="15">Isla</text>
<text x="771.8" y="718.6" text-anchor="start" font-size="15">cor.</text>
<text x="742.9" y="710.2" font-size="15">R</text>
</g>
<text transform="translate(749.5 179.5) rotate(87.4)" text-anchor="start" font-size="17" textLength="242" lengthAdjust="spacingAndGlyphs">Canal marea/lengua arena/boca río</text>
<text transform="translate(789.1 37.4) rotate(-89) scale(0.914 1)" y="6.1" text-anchor="start">PL-1</text>
<text transform="translate(822.4 38.8) rotate(-86.4) scale(0.914 1)" y="6.1" text-anchor="start">PL-2</text>
<text transform="translate(859.4 42) rotate(-83.5) scale(0.914 1)" y="6.1" text-anchor="start">PL-3</text>
<text transform="translate(891.4 46.4) rotate(-81) scale(0.914 1)" y="6.1" text-anchor="start">PL-4</text>
<text transform="translate(924 52.4) rotate(-78.4) scale(0.914 1)" y="6.1" text-anchor="start">PL-5</text>
<text transform="translate(961.7 61.2) rotate(-75.4) scale(0.914 1)" y="6.1" text-anchor="start">PL-6</text>
<text transform="translate(998.8 71.9) rotate(-72.4) scale(0.914 1)" y="6.1" text-anchor="start">PL-7</text>
<text transform="translate(1028.2 81.9) rotate(-69.9) scale(0.914 1)" y="6.1" text-anchor="start">PL-8</text>
<text transform="translate(1058.1 93.6) rotate(-67.4) scale(0.914 1)" y="6.1" text-anchor="start">PL-9</text>
<text transform="translate(1092.9 109.1) rotate(-64.5) scale(0.927 1)" y="6.1" text-anchor="start">PL-10</text>
<text transform="translate(1125.9 125.9) rotate(-61.6) scale(0.927 1)" y="6.1" text-anchor="start">PL-11</text>
<text transform="translate(1154.9 142.5) rotate(-59) scale(0.927 1)" y="6.1" text-anchor="start">PL-12</text>
<text transform="translate(1183.1 160.3) rotate(-56.4) scale(0.927 1)" y="6.1" text-anchor="start">PL-13</text>
<text transform="translate(1214.6 182.5) rotate(-53.4) scale(0.927 1)" y="6.1" text-anchor="start">PL-14</text>
<text transform="translate(1244.9 206.2) rotate(-50.4) scale(0.927 1)" y="6.1" text-anchor="start">PL-15</text>
<text transform="translate(1268.2 226.4) rotate(-48) scale(0.927 1)" y="6.1" text-anchor="start">PL-16</text>
<text transform="translate(1291.1 247.9) rotate(-45.5) scale(0.927 1)" y="6.1" text-anchor="start">PL-17</text>
<text transform="translate(1318.5 276.3) rotate(-42.5) scale(0.927 1)" y="6.1" text-anchor="start">PL-18</text>
<text transform="translate(1343.2 304.7) rotate(-39.5) scale(0.927 1)" y="6.1" text-anchor="start">PL-19</text>
<text transform="translate(1362.5 329.1) rotate(-37.1) scale(0.927 1)" y="6.1" text-anchor="start">PL-20</text>
<text transform="translate(1382.1 356.3) rotate(-34.5) scale(0.927 1)" y="6.1" text-anchor="start">PL-21</text>
<text transform="translate(1403.7 389.5) rotate(-31.4) scale(0.927 1)" y="6.1" text-anchor="start">PL-22</text>
<text transform="translate(1422.3 421.8) rotate(-28.5) scale(0.927 1)" y="6.1" text-anchor="start">PL-23</text>
<text transform="translate(1437.1 450.7) rotate(-26) scale(0.927 1)" y="6.1" text-anchor="start">PL-24</text>
<text transform="translate(1451 481) rotate(-23.4) scale(0.940 1)" y="6.1" text-anchor="start">BA-1</text>
<text transform="translate(1465.1 515.9) rotate(-20.4) scale(0.940 1)" y="6.1" text-anchor="start">BA-2</text>
<text transform="translate(1477.6 552.3) rotate(-17.4) scale(0.940 1)" y="6.1" text-anchor="start">BA-3</text>
<text transform="translate(1486.5 583.1) rotate(-14.9) scale(0.940 1)" y="6.1" text-anchor="start">BA-4</text>
<text transform="translate(1494 613.8) rotate(-12.5) scale(0.940 1)" y="6.1" text-anchor="start">BA-5</text>
<text transform="translate(1501.4 651.8) rotate(-9.5) scale(0.940 1)" y="6.1" text-anchor="start">BA-6</text>
<text transform="translate(1506.7 690) rotate(-3) scale(0.940 1)" y="6.1" text-anchor="start">BA-7</text>
<text transform="translate(1509.6 721.5) rotate(-1) scale(0.940 1)" y="6.1" text-anchor="start">BA-8</text>
<text transform="translate(1511.1 753.2) rotate(0) scale(0.940 1)" y="6.1" text-anchor="start">BA-9</text>
<text transform="translate(1511.2 791.9) rotate(0) scale(0.948 1)" y="6.1" text-anchor="start">BA-10</text>
<text transform="translate(1509.1 830.3) rotate(2) scale(0.948 1)" y="6.1" text-anchor="start">BA-11</text>
<text transform="translate(1506 861.5) rotate(4) scale(0.948 1)" y="6.1" text-anchor="start">BA-12</text>
<text transform="translate(1501.5 893.4) rotate(9.4) scale(0.948 1)" y="6.1" text-anchor="start">BA-13</text>
<text transform="translate(1494.1 931.5) rotate(12.5) scale(0.948 1)" y="6.1" text-anchor="start">BA-14</text>
<text transform="translate(1484.8 969) rotate(15.5) scale(0.948 1)" y="6.1" text-anchor="start">BA-15</text>
<text transform="translate(1475.5 999.7) rotate(18) scale(0.948 1)" y="6.1" text-anchor="start">BA-16</text>
<text transform="translate(1465.2 1029.5) rotate(20.4) scale(0.948 1)" y="6.1" text-anchor="start">BA-17</text>
<text transform="translate(1450.9 1064.9) rotate(23.4) scale(0.948 1)" y="6.1" text-anchor="start">BA-18</text>
<text transform="translate(1434.9 1099.4) rotate(26.4) scale(0.948 1)" y="6.1" text-anchor="start">BA-19</text>
<text transform="translate(1420.2 1127.5) rotate(28.8) scale(0.948 1)" y="6.1" text-anchor="start">BA-20</text>
<text transform="translate(1403.9 1155.7) rotate(31.4) scale(0.948 1)" y="6.1" text-anchor="start">BA-21</text>
<text transform="translate(1382.7 1188.4) rotate(34.4) scale(0.948 1)" y="6.1" text-anchor="start">BA-22</text>
<text transform="translate(1360.1 1219.6) rotate(37.4) scale(0.948 1)" y="6.1" text-anchor="start">BA-23</text>
<text transform="translate(1339.3 1245.6) rotate(40) scale(0.948 1)" y="6.1" text-anchor="start">BA-24</text>
<text transform="translate(1317.9 1270) rotate(42.5) scale(0.919 1)" y="6.1" text-anchor="start">DE-1</text>
<text transform="translate(1292 1296.9) rotate(45.4) scale(0.919 1)" y="6.1" text-anchor="start">DE-2</text>
<text transform="translate(1264.1 1322.9) rotate(48.4) scale(0.919 1)" y="6.1" text-anchor="start">DE-3</text>
<text transform="translate(1239.1 1344.1) rotate(51) scale(0.919 1)" y="6.1" text-anchor="start">DE-4</text>
<text transform="translate(1213.8 1363.7) rotate(53.5) scale(0.919 1)" y="6.1" text-anchor="start">DE-5</text>
<text transform="translate(1182.7 1385.6) rotate(56.4) scale(0.919 1)" y="6.1" text-anchor="start">DE-6</text>
<text transform="translate(1150 1406.1) rotate(59.4) scale(0.919 1)" y="6.1" text-anchor="start">DE-7</text>
<text transform="translate(1121.6 1422) rotate(62) scale(0.919 1)" y="6.1" text-anchor="start">DE-8</text>
<text transform="translate(1093.3 1436.3) rotate(64.4) scale(0.919 1)" y="6.1" text-anchor="start">DE-9</text>
<text transform="translate(1058.8 1451.7) rotate(67.4) scale(0.931 1)" y="6.1" text-anchor="start">DE-10</text>
<text transform="translate(1022.9 1465.6) rotate(70.4) scale(0.931 1)" y="6.1" text-anchor="start">DE-11</text>
<text transform="translate(991.4 1476) rotate(73) scale(0.931 1)" y="6.1" text-anchor="start">DE-12</text>
<text transform="translate(961 1484.6) rotate(75.4) scale(0.931 1)" y="6.1" text-anchor="start">DE-13</text>
<text transform="translate(923.7 1493.3) rotate(78.4) scale(0.931 1)" y="6.1" text-anchor="start">DE-14</text>
<text transform="translate(885.3 1500.1) rotate(81.4) scale(0.931 1)" y="6.1" text-anchor="start">DE-15</text>
<text transform="translate(852.8 1504.3) rotate(84) scale(0.931 1)" y="6.1" text-anchor="start">DE-16</text>
<text transform="translate(821.1 1506.9) rotate(86.5) scale(0.931 1)" y="6.1" text-anchor="start">DE-17</text>
<text transform="translate(782.5 1508.3) rotate(89.5) scale(0.931 1)" y="6.1" text-anchor="start">DE-18</text>
<text transform="translate(744.2 1507.6) rotate(272.5) scale(0.931 1)" y="6.1" text-anchor="end">DE-19</text>
<text transform="translate(712.5 1505.6) rotate(274.9) scale(0.931 1)" y="6.1" text-anchor="end">DE-20</text>
<text transform="translate(680.2 1502) rotate(277.5) scale(0.931 1)" y="6.1" text-anchor="end">DE-21</text>
<text transform="translate(642.3 1496.1) rotate(280.5) scale(0.931 1)" y="6.1" text-anchor="end">DE-22</text>
<text transform="translate(604.6 1488.1) rotate(283.5) scale(0.931 1)" y="6.1" text-anchor="end">DE-23</text>
<text transform="translate(573.3 1479.8) rotate(286) scale(0.931 1)" y="6.1" text-anchor="end">DE-24</text>
<text transform="translate(540.5 1469.6) rotate(288.7) scale(0.860 1)" y="6.1" text-anchor="end">SR-1</text>
<text transform="translate(503.9 1456.5) rotate(291.7) scale(0.860 1)" y="6.1" text-anchor="end">SR-2</text>
<text transform="translate(470.2 1442.3) rotate(294.5) scale(0.860 1)" y="6.1" text-anchor="end">SR-3</text>
<text transform="translate(441.3 1428.5) rotate(297) scale(0.860 1)" y="6.1" text-anchor="end">SR-4</text>
<text transform="translate(413.3 1413.6) rotate(299.5) scale(0.860 1)" y="6.1" text-anchor="end">SR-5</text>
<text transform="translate(380.5 1394.1) rotate(302.5) scale(0.860 1)" y="6.1" text-anchor="end">SR-6</text>
<text transform="translate(348.2 1372.6) rotate(305.5) scale(0.860 1)" y="6.1" text-anchor="end">SR-7</text>
<text transform="translate(322.2 1353.4) rotate(308) scale(0.860 1)" y="6.1" text-anchor="end">SR-8</text>
<text transform="translate(295.7 1331.9) rotate(310.7) scale(0.860 1)" y="6.1" text-anchor="end">SR-9</text>
<text transform="translate(267.9 1307.1) rotate(313.6) scale(0.883 1)" y="6.1" text-anchor="end">SR-10</text>
<text transform="translate(241.8 1281.3) rotate(316.4) scale(0.883 1)" y="6.1" text-anchor="end">SR-11</text>
<text transform="translate(219 1256.5) rotate(319) scale(0.883 1)" y="6.1" text-anchor="end">SR-12</text>
<text transform="translate(198 1231.6) rotate(321.6) scale(0.883 1)" y="6.1" text-anchor="end">SR-13</text>
<text transform="translate(175.4 1202) rotate(324.4) scale(0.883 1)" y="6.1" text-anchor="end">SR-14</text>
<text transform="translate(154 1170.7) rotate(327.4) scale(0.883 1)" y="6.1" text-anchor="end">SR-15</text>
<text transform="translate(137 1143.2) rotate(329.9) scale(0.883 1)" y="6.1" text-anchor="end">SR-16</text>
<text transform="translate(121 1114.5) rotate(332.4) scale(0.883 1)" y="6.1" text-anchor="end">SR-17</text>
<text transform="translate(103.8 1079.8) rotate(335.4) scale(0.883 1)" y="6.1" text-anchor="end">SR-18</text>
<text transform="translate(88.4 1044) rotate(338.5) scale(0.883 1)" y="6.1" text-anchor="end">SR-19</text>
<text transform="translate(76.6 1012.6) rotate(341.1) scale(0.883 1)" y="6.1" text-anchor="end">SR-20</text>
<text transform="translate(66.6 981.7) rotate(343.6) scale(0.879 1)" y="6.1" text-anchor="end">FR-1</text>
<text transform="translate(56.8 945.5) rotate(346.5) scale(0.879 1)" y="6.1" text-anchor="end">FR-2</text>
<text transform="translate(48.7 907.9) rotate(349.5) scale(0.879 1)" y="6.1" text-anchor="end">FR-3</text>
<text transform="translate(43.3 875.8) rotate(352) scale(0.879 1)" y="6.1" text-anchor="end">FR-4</text>
<text transform="translate(39.5 843.7) rotate(354.5) scale(0.879 1)" y="6.1" text-anchor="end">FR-5</text>
<text transform="translate(36.7 805.1) rotate(357.5) scale(0.879 1)" y="6.1" text-anchor="end">FR-6</text>
<text transform="translate(36 766.3) rotate(360.5) scale(0.879 1)" y="6.1" text-anchor="end">FR-7</text>
<text transform="translate(36.9 733.9) rotate(363) scale(0.879 1)" y="6.1" text-anchor="end">FR-8</text>
<text transform="translate(39.3 701.9) rotate(365.5) scale(0.879 1)" y="6.1" text-anchor="end">FR-9</text>
<text transform="translate(44 663.4) rotate(368.5) scale(0.899 1)" y="6.1" text-anchor="end">FR-10</text>
<text transform="translate(50.8 625.2) rotate(371.5) scale(0.899 1)" y="6.1" text-anchor="end">FR-11</text>
<text transform="translate(58 593.7) rotate(374) scale(0.899 1)" y="6.1" text-anchor="end">FR-12</text>
<text transform="translate(66.7 562.3) rotate(376.5) scale(0.899 1)" y="6.1" text-anchor="end">FR-13</text>
<text transform="translate(78.7 525.8) rotate(379.5) scale(0.899 1)" y="6.1" text-anchor="end">FR-14</text>
<text transform="translate(92.6 489.8) rotate(382.5) scale(0.899 1)" y="6.1" text-anchor="end">FR-15</text>
<text transform="translate(105.8 460.1) rotate(385) scale(0.899 1)" y="6.1" text-anchor="end">FR-16</text>
<text transform="translate(120.4 430.9) rotate(387.5) scale(0.899 1)" y="6.1" text-anchor="end">FR-17</text>
<text transform="translate(139.5 396.8) rotate(390.6) scale(0.899 1)" y="6.1" text-anchor="end">FR-18</text>
<text transform="translate(160.3 364.1) rotate(393.6) scale(0.899 1)" y="6.1" text-anchor="end">FR-19</text>
<text transform="translate(178.8 337.7) rotate(396.1) scale(0.899 1)" y="6.1" text-anchor="end">FR-20</text>
<text transform="translate(198.7 312) rotate(398.6) scale(0.899 1)" y="6.1" text-anchor="end">FR-21</text>
<text transform="translate(223.7 282.6) rotate(401.6) scale(0.899 1)" y="6.1" text-anchor="end">FR-22</text>
<text transform="translate(250.4 254.4) rotate(404.6) scale(0.893 1)" y="6.1" text-anchor="end">R-1</text>
<text transform="translate(273.7 232) rotate(407.1) scale(0.893 1)" y="6.1" text-anchor="end">R-2</text>
<text transform="translate(297.8 210.9) rotate(409.6) scale(0.893 1)" y="6.1" text-anchor="end">R-3</text>
<text transform="translate(327.7 187) rotate(412.6) scale(0.893 1)" y="6.1" text-anchor="end">R-4</text>
<text transform="translate(359.4 164.4) rotate(415.6) scale(0.919 1)" y="6.1" text-anchor="end">CI-1</text>
<text transform="translate(386.8 146.7) rotate(418.1) scale(0.919 1)" y="6.1" text-anchor="end">CI-2</text>
<text transform="translate(414.5 130.6) rotate(420.6) scale(0.919 1)" y="6.1" text-anchor="end">CI-3</text>
<text transform="translate(448.7 112.7) rotate(423.6) scale(0.919 1)" y="6.1" text-anchor="end">CI-4</text>
<text transform="translate(483.7 96.7) rotate(426.6) scale(0.919 1)" y="6.1" text-anchor="end">CI-5</text>
<text transform="translate(513.7 84.7) rotate(429.1) scale(0.919 1)" y="6.1" text-anchor="end">CI-6</text>
<text transform="translate(544.1 74) rotate(431.6) scale(0.919 1)" y="6.1" text-anchor="end">CI-7</text>
<text transform="translate(580.9 63.1) rotate(434.6) scale(0.919 1)" y="6.1" text-anchor="end">CI-8</text>
<text transform="translate(618.4 53.9) rotate(437.6) scale(0.919 1)" y="6.1" text-anchor="end">CI-9</text>
<text transform="translate(649.9 48.2) rotate(440.1) scale(0.932 1)" y="6.1" text-anchor="end">CI-10</text>
<text transform="translate(681.6 43.4) rotate(442.6) scale(0.932 1)" y="6.1" text-anchor="end">CI-11</text>
<text transform="translate(720.4 39.4) rotate(445.7) scale(0.932 1)" y="6.1" text-anchor="end">CI-12</text>
<text transform="translate(757 37.5) rotate(448.5) scale(0.809 1)" y="6.1" text-anchor="end">TSR</text>
</g>
<g fill="#111">
<rect x="160.5" y="1582" width="1230.6" height="414.4" fill="none" stroke="#000" stroke-width="1.5"/>
<path d="M909.6 1582V1996.4" stroke="#000" stroke-width="1.5"/>
<text x="172.4" y="1612.1" font-size="19.5" font-weight="bold" textLength="296.3" lengthAdjust="spacingAndGlyphs">CLASIFICACIÓN DE COSTAS</text>
<text x="476.3" y="1612.1" font-size="19.5" font-weight="bold" textLength="383.9" lengthAdjust="spacingAndGlyphs">(comenzar en el centro de la rueda)</text>
<text x="172.4" y="1641.6" font-size="19" textLength="270.7" lengthAdjust="spacingAndGlyphs">Características geológicas</text>
<text x="172.4" y="1671.4" font-size="19" textLength="211.4" lengthAdjust="spacingAndGlyphs">Exposición a las olas</text>
<text x="170.8" y="1757.5" font-size="19" textLength="210.5" lengthAdjust="spacingAndGlyphs">Variación de mareas</text>
<text x="170.8" y="1787.5" font-size="19" textLength="133" lengthAdjust="spacingAndGlyphs">Flora y fauna</text>
<text x="171.6" y="1816.3" font-size="19" textLength="244.4" lengthAdjust="spacingAndGlyphs">Balance de Sedimentos</text>
<text x="171.6" y="1922.2" font-size="19" textLength="239.6" lengthAdjust="spacingAndGlyphs">Régimen de tormentas</text>
<text x="171.6" y="1980.1" font-size="16.5" textLength="716.8" lengthAdjust="spacingAndGlyphs" xml:space="preserve">R= Roca dura en talud;   C=Corales;   P/M=Pantanos o manglares;   NE=No esp.</text>
<rect x="468.1" y="1624.5" width="25.8" height="20.3" fill="#F8F044"/>
<rect x="503.7" y="1624.5" width="25.8" height="20.3" fill="#FDD11F"/>
<rect x="539.3" y="1624.5" width="25.8" height="20.3" fill="#FAA41B"/>
<rect x="574.9" y="1624.5" width="25.8" height="20.3" fill="#DF7B29"/>
<rect x="610.5" y="1624.5" width="25.8" height="20.3" fill="#C6602B"/>
<rect x="646.1" y="1624.5" width="25.8" height="20.3" fill="#A0702A"/>
<rect x="681.7" y="1624.5" width="25.8" height="20.3" fill="#FFCB66"/>
<rect x="468.1" y="1655.3" width="25.8" height="20.3" fill="#2567B2"/>
<rect x="468.1" y="1683.8" width="25.8" height="20.3" fill="#5A88C6"/>
<rect x="468.1" y="1712.2" width="25.8" height="20.3" fill="#98B4DA"/>
<rect x="468.1" y="1741.7" width="25.8" height="20.3" fill="#9C9ACE"/>
<rect x="503.7" y="1741.9" width="25.8" height="20.3" fill="#555BAA"/>
<rect x="468.1" y="1770.1" width="25.8" height="20.3" fill="#C4DDD9"/>
<rect x="503.7" y="1770.1" width="25.8" height="20.3" fill="#A3CAC5"/>
<rect x="539.3" y="1770.1" width="25.8" height="20.3" fill="#90BEB8"/>
<rect x="574.9" y="1770.1" width="25.8" height="20.3" fill="#86B8B1"/>
<rect x="610.5" y="1770.1" width="25.8" height="20.3" fill="#75ACA4"/>
<rect x="646.1" y="1770.1" width="25.8" height="20.3" fill="#5EA098"/>
<rect x="468.1" y="1799.2" width="25.8" height="20.3" fill="#3D7A70"/>
<rect x="468.1" y="1824.8" width="25.8" height="20.3" fill="#92B5AD"/>
<rect x="468.1" y="1850.3" width="25.8" height="20.3" fill="#62938A"/>
<rect x="468.1" y="1875.3" width="25.8" height="20.3" fill="#88AFA7"/>
<rect x="468.1" y="1903.2" width="25.8" height="20.3" fill="#9E9C98"/>
<rect x="468.1" y="1929.6" width="25.8" height="20.3" fill="#C4C3C1"/>
<text x="504.2" y="1674.2" font-size="17" textLength="20" lengthAdjust="spacingAndGlyphs">Ea</text>
<text x="560.6" y="1674.2" font-size="17" textLength="137.5" lengthAdjust="spacingAndGlyphs">Exposición alta</text>
<text x="504.2" y="1699.3" font-size="17" textLength="29" lengthAdjust="spacingAndGlyphs">Em</text>
<text x="560.6" y="1699.3" font-size="17" textLength="200.5" lengthAdjust="spacingAndGlyphs">Exposición moderada</text>
<text x="504.2" y="1722.9" font-size="17">P</text>
<text x="560.6" y="1722.9" font-size="17" textLength="89.5" lengthAdjust="spacingAndGlyphs">Protegida</text>
<text x="503.4" y="1816" font-size="17" textLength="32.4" lengthAdjust="spacingAndGlyphs">B/D</text>
<text x="560.6" y="1816" font-size="17" textLength="150.3" lengthAdjust="spacingAndGlyphs" stroke="#111" stroke-width="0.25">Balance o déficit</text>
<text x="502.8" y="1841" font-size="17" textLength="38.2" lengthAdjust="spacingAndGlyphs">Sup.</text>
<text x="560.6" y="1841" font-size="17" textLength="87.3" lengthAdjust="spacingAndGlyphs">Superávit</text>
<text x="504.2" y="1867.3" font-size="17" textLength="25.1" lengthAdjust="spacingAndGlyphs">NP</text>
<text x="560.6" y="1867.3" font-size="17" textLength="79.5" lengthAdjust="spacingAndGlyphs">No playa</text>
<text x="504.2" y="1893" font-size="17">P</text>
<text x="560.6" y="1893" font-size="17" textLength="47.7" lengthAdjust="spacingAndGlyphs">Playa</text>
<text x="502.6" y="1918.8" font-size="17">S</text>
<text x="560.6" y="1918.8" font-size="17" textLength="323.7" lengthAdjust="spacingAndGlyphs">Actividad de ciclones tropicales (Sí)</text>
<text x="503.2" y="1944.2" font-size="17">N</text>
<text x="560.6" y="1944.2" font-size="17" textLength="333.5" lengthAdjust="spacingAndGlyphs">Actividad de ciclones tropicales (No)</text>
<text x="921.7" y="1610.2" font-size="20" font-weight="bold" textLength="186.2" lengthAdjust="spacingAndGlyphs">NIVEL DE RIESGO</text>
<text x="925.1" y="1742.9" font-size="19" textLength="298.5" lengthAdjust="spacingAndGlyphs">Perturbación del ecosistema</text>
<text x="925.1" y="1772.5" font-size="19" textLength="236.5" lengthAdjust="spacingAndGlyphs">Inundación progresiva</text>
<text x="925.1" y="1802.2" font-size="19" textLength="257" lengthAdjust="spacingAndGlyphs">Intrusión de agua salada</text>
<text x="925.1" y="1832.1" font-size="19" textLength="76.6" lengthAdjust="spacingAndGlyphs">Erosión</text>
<text x="925.1" y="1859.3" font-size="19" textLength="118.8" lengthAdjust="spacingAndGlyphs">Inundación</text>
<rect x="1242" y="1724.2" width="25.8" height="20.7" fill="#F1EDD0"/>
<text x="1254.4" y="1739.4" font-size="16" text-anchor="middle">1</text>
<rect x="1278.8" y="1724.2" width="24.1" height="20.7" fill="#E2DCA2"/>
<text x="1290.3" y="1739.4" font-size="16" text-anchor="middle">2</text>
<rect x="1313.3" y="1724.2" width="26.5" height="20.7" fill="#D5CC74"/>
<text x="1326" y="1739.4" font-size="16" text-anchor="middle">3</text>
<rect x="1348.9" y="1724.2" width="25.8" height="20.7" fill="#C8BC48"/>
<text x="1361.3" y="1739.4" font-size="16" text-anchor="middle">4</text>
<rect x="1242" y="1753.2" width="25.8" height="20.4" fill="#FFFCCC"/>
<text x="1254.4" y="1768.4" font-size="16" text-anchor="middle">1</text>
<rect x="1278" y="1753.2" width="25" height="20.4" fill="#FFF77A"/>
<text x="1290" y="1768.4" font-size="16" text-anchor="middle">2</text>
<rect x="1315" y="1751.4" width="25" height="20.4" fill="#FFF340"/>
<text x="1327" y="1766.6" font-size="16" text-anchor="middle">3</text>
<rect x="1350.1" y="1751.4" width="25.8" height="20.4" fill="#FFF000"/>
<text x="1362.5" y="1766.6" font-size="16" text-anchor="middle">4</text>
<rect x="1242" y="1780.3" width="25.8" height="19.8" fill="#FEE7C8"/>
<text x="1254.4" y="1795.5" font-size="16" text-anchor="middle">1</text>
<rect x="1277" y="1780.3" width="25.9" height="19.8" fill="#FDD08D"/>
<text x="1289.5" y="1795.5" font-size="16" text-anchor="middle">2</text>
<rect x="1313.5" y="1780.3" width="24.7" height="19.8" fill="#FCB552"/>
<text x="1325.3" y="1795.5" font-size="16" text-anchor="middle">3</text>
<rect x="1348.9" y="1780.3" width="25.8" height="19.8" fill="#FAA01B"/>
<text x="1361.3" y="1795.5" font-size="16" text-anchor="middle">4</text>
<rect x="1242" y="1808.8" width="25.8" height="20" fill="#F2C6C8"/>
<text x="1254.4" y="1824" font-size="16" text-anchor="middle">1</text>
<rect x="1278" y="1808.8" width="25" height="20" fill="#E28C91"/>
<text x="1290" y="1824" font-size="16" text-anchor="middle">2</text>
<rect x="1313.5" y="1808.8" width="25" height="20" fill="#D5565C"/>
<text x="1325.5" y="1824" font-size="16" text-anchor="middle">3</text>
<rect x="1348.9" y="1808.8" width="25.8" height="20" fill="#C81F25"/>
<text x="1361.3" y="1824" font-size="16" text-anchor="middle">4</text>
<rect x="1242" y="1837.3" width="25.8" height="19.6" fill="#E3C8CA"/>
<text x="1254.4" y="1852.5" font-size="16" text-anchor="middle">1</text>
<rect x="1277" y="1837.3" width="25.9" height="19.6" fill="#C99293"/>
<text x="1289.5" y="1852.5" font-size="16" text-anchor="middle">2</text>
<rect x="1313.5" y="1837.3" width="24.7" height="19.6" fill="#AC5A5D"/>
<text x="1325.3" y="1852.5" font-size="16" text-anchor="middle">3</text>
<rect x="1348.9" y="1837.3" width="25.8" height="19.6" fill="#8F2224"/>
<text x="1361.3" y="1852.5" font-size="16" text-anchor="middle">4</text>
<text transform="translate(1261 1712) rotate(-90)" font-size="16.5" textLength="29.1" lengthAdjust="spacingAndGlyphs">Bajo</text>
<text transform="translate(1299.8 1712.3) rotate(-90)" font-size="16.5" textLength="74.6" lengthAdjust="spacingAndGlyphs">Moderado</text>
<text transform="translate(1334.7 1709.6) rotate(-90)" font-size="16.5" textLength="28.5" lengthAdjust="spacingAndGlyphs">Alto</text>
<text transform="translate(1365.5 1709.6) rotate(-90)" font-size="16.5" textLength="63.6" lengthAdjust="spacingAndGlyphs">Muy alto</text>
<text x="1007.4" y="2015.3" font-size="13.5" textLength="384.5" lengthAdjust="spacingAndGlyphs">Rosendahl Appelquist - CHW 3.0 - www.coastalhazardwheel.org</text>
</g>
</svg>
</body></html>
